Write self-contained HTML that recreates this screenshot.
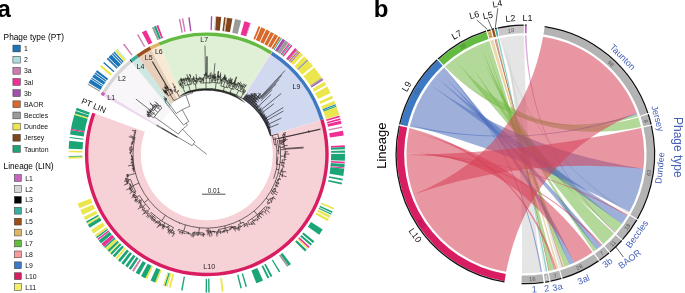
<!DOCTYPE html>
<html><head><meta charset="utf-8"><title>Figure</title>
<style>html,body{margin:0;padding:0;background:#fff;}body{width:685px;height:293px;overflow:hidden;font-family:"Liberation Sans",sans-serif;}svg{display:block;will-change:transform;transform:translateZ(0);}</style></head>
<body>
<svg width="685" height="293" viewBox="0 0 685 293" font-family="'Liberation Sans', sans-serif">
<path d="M102.95 95.83A119.2 119.2 0 0 1 104.73 92.78L158.85 125.42A56 56 0 0 0 158.01 126.86Z" fill="#ecd9ee"/>
<path d="M104.73 92.78A119.2 119.2 0 0 1 131.46 61.98L171.41 110.95A56 56 0 0 0 158.85 125.42Z" fill="#f8f6f8"/>
<path d="M131.46 61.98A119.2 119.2 0 0 1 132.11 61.45L169.2 107.59A60 60 0 0 0 168.88 107.85Z" fill="#dddddd"/>
<path d="M132.11 61.45A119.2 119.2 0 0 1 138.09 56.95L172.21 105.32A60 60 0 0 0 169.2 107.59Z" fill="#cde8e3"/>
<path d="M138.09 56.95A119.2 119.2 0 0 1 151.02 49.01L177.79 99.56A62 62 0 0 0 171.06 103.69Z" fill="#e6cfbb"/>
<path d="M151.02 49.01A119.2 119.2 0 0 1 159.65 44.87L181.88 96.49A63 63 0 0 0 177.32 98.67Z" fill="#f7e9d4"/>
<path d="M159.65 44.87A119.2 119.2 0 0 1 270.49 53.59L241.27 99.83A64.5 64.5 0 0 0 181.29 95.11Z" fill="#dff0d6"/>
<path d="M270.49 53.59A119.2 119.2 0 0 1 271.2 54.04L241.65 100.07A64.5 64.5 0 0 0 241.27 99.83Z" fill="#f8d8d8"/>
<path d="M271.2 54.04A119.2 119.2 0 0 1 320.97 120.1L269.54 135.53A65.5 65.5 0 0 0 242.19 99.23Z" fill="#d1d9f0"/>
<path d="M320.97 120.1A119.2 119.2 0 1 1 94.79 113.58L144.78 131.78A66 66 0 1 0 270.02 135.38Z" fill="#f6d1d6"/>
<path d="M100.6 94.51A121.9 121.9 0 0 1 102.42 91.38L105.33 93.14A118.5 118.5 0 0 0 103.56 96.18Z" fill="#c466bd"/>
<path d="M102.42 91.38A121.9 121.9 0 0 1 129.76 59.88L131.9 62.52A118.5 118.5 0 0 0 105.33 93.14Z" fill="#d6d6d6"/>
<path d="M129.76 59.88A121.9 121.9 0 0 1 130.42 59.35L132.55 62A118.5 118.5 0 0 0 131.9 62.52Z" fill="#000000"/>
<path d="M130.42 59.35A121.9 121.9 0 0 1 136.53 54.74L138.49 57.52A118.5 118.5 0 0 0 132.55 62Z" fill="#3bada1"/>
<path d="M136.53 54.74A121.9 121.9 0 0 1 149.76 46.62L151.35 49.62A118.5 118.5 0 0 0 138.49 57.52Z" fill="#9a4f1b"/>
<path d="M149.76 46.62A121.9 121.9 0 0 1 158.58 42.39L159.93 45.51A118.5 118.5 0 0 0 151.35 49.62Z" fill="#e0b468"/>
<path d="M158.58 42.39A121.9 121.9 0 0 1 271.94 51.31L270.12 54.19A118.5 118.5 0 0 0 159.93 45.51Z" fill="#63bb42"/>
<path d="M271.94 51.31A121.9 121.9 0 0 1 272.66 51.77L270.82 54.63A118.5 118.5 0 0 0 270.12 54.19Z" fill="#f69a9c"/>
<path d="M272.66 51.77A121.9 121.9 0 0 1 323.56 119.32L320.3 120.3A118.5 118.5 0 0 0 270.82 54.63Z" fill="#3d78c2"/>
<path d="M323.56 119.32A121.9 121.9 0 1 1 92.25 112.66L95.45 113.82A118.5 118.5 0 1 0 320.3 120.3Z" fill="#d81d62"/>
<path d="M87.48 84.62A138.2 138.2 0 0 1 88.09 83.59L100.03 90.7A124.3 124.3 0 0 0 99.48 91.64Z" fill="#9b9b9b"/>
<path d="M88.59 82.76A138.2 138.2 0 0 1 90.76 79.28L102.44 86.83A124.3 124.3 0 0 0 100.48 89.96Z" fill="#1b75b8"/>
<path d="M91.16 78.68A138.2 138.2 0 0 1 91.82 77.67L103.39 85.38A124.3 124.3 0 0 0 102.79 86.29Z" fill="#1b75b8"/>
<path d="M92.23 77.07A138.2 138.2 0 0 1 94.15 74.29L105.48 82.35A124.3 124.3 0 0 0 103.75 84.84Z" fill="#1b75b8"/>
<path d="M94.57 73.7A138.2 138.2 0 0 1 95.42 72.53L106.62 80.76A124.3 124.3 0 0 0 105.86 81.82Z" fill="#1b75b8"/>
<path d="M95.85 71.95A138.2 138.2 0 0 1 97.16 70.22L108.19 78.68A124.3 124.3 0 0 0 107.01 80.24Z" fill="#1b75b8"/>
<path d="M99.86 66.82A138.2 138.2 0 0 1 101.4 64.96L112 73.95A124.3 124.3 0 0 0 110.61 75.62Z" fill="#ece64e"/>
<path d="M103.13 62.96A138.2 138.2 0 0 1 104.1 61.88L114.43 71.18A124.3 124.3 0 0 0 113.56 72.15Z" fill="#1b75b8"/>
<path d="M106.72 59.04A138.2 138.2 0 0 1 107.89 57.83L117.84 67.54A124.3 124.3 0 0 0 116.79 68.63Z" fill="#1b75b8"/>
<path d="M108.4 57.31A138.2 138.2 0 0 1 111.32 54.44L120.92 64.49A124.3 124.3 0 0 0 118.3 67.07Z" fill="#1b75b8"/>
<path d="M111.84 53.94A138.2 138.2 0 0 1 112.9 52.95L122.35 63.15A124.3 124.3 0 0 0 121.4 64.04Z" fill="#1b75b8"/>
<path d="M113.43 52.46A138.2 138.2 0 0 1 114.51 51.49L123.79 61.83A124.3 124.3 0 0 0 122.82 62.71Z" fill="#1b75b8"/>
<path d="M115.05 51A138.2 138.2 0 0 1 116.68 49.58L125.74 60.11A124.3 124.3 0 0 0 124.27 61.4Z" fill="#ece64e"/>
<path d="M117.05 49.26A138.2 138.2 0 0 1 117.6 48.79L126.57 59.41A124.3 124.3 0 0 0 126.07 59.83Z" fill="#a9dde0"/>
<path d="M123.05 44.42A138.2 138.2 0 0 1 124.21 43.54L132.52 54.69A124.3 124.3 0 0 0 131.48 55.47Z" fill="#cf7ab0"/>
<path d="M137.07 35.03A138.2 138.2 0 0 1 138.33 34.31L145.21 46.38A124.3 124.3 0 0 0 144.09 47.03Z" fill="#cf7ab0"/>
<path d="M141.92 32.33A138.2 138.2 0 0 1 146.22 30.14L152.31 42.63A124.3 124.3 0 0 0 148.44 44.6Z" fill="#ef2f96"/>
<path d="M151.91 27.52A138.2 138.2 0 0 1 153.69 26.76L159.03 39.59A124.3 124.3 0 0 0 157.43 40.27Z" fill="#9b9b9b"/>
<path d="M153.91 26.67A138.2 138.2 0 0 1 155.93 25.85L161.04 38.78A124.3 124.3 0 0 0 159.23 39.51Z" fill="#1ba576"/>
<path d="M156.37 25.68A138.2 138.2 0 0 1 158.18 24.99L163.07 38A124.3 124.3 0 0 0 161.45 38.62Z" fill="#ef2f96"/>
<path d="M178.77 19.02A138.2 138.2 0 0 1 180.19 18.74L182.87 32.38A124.3 124.3 0 0 0 181.59 32.63Z" fill="#cf7ab0"/>
<path d="M181.85 18.42A138.2 138.2 0 0 1 183.28 18.17L185.64 31.86A124.3 124.3 0 0 0 184.36 32.09Z" fill="#cf7ab0"/>
<path d="M188.28 17.4A138.2 138.2 0 0 1 189.72 17.21L191.44 31A124.3 124.3 0 0 0 190.15 31.17Z" fill="#a44fae"/>
<path d="M210.9 16.21A138.2 138.2 0 0 1 212.35 16.26L211.79 30.15A124.3 124.3 0 0 0 210.49 30.1Z" fill="#a44fae"/>
<path d="M215 16.39A138.2 138.2 0 0 1 215.96 16.45L215.04 30.32A124.3 124.3 0 0 0 214.17 30.27Z" fill="#c9c9c9"/>
<path d="M216.2 16.47A138.2 138.2 0 0 1 221.25 16.91L219.79 30.73A124.3 124.3 0 0 0 215.25 30.34Z" fill="#80431c"/>
<path d="M224.12 17.24A138.2 138.2 0 0 1 225.79 17.46L223.88 31.23A124.3 124.3 0 0 0 222.38 31.03Z" fill="#80431c"/>
<path d="M226.03 17.49A138.2 138.2 0 0 1 227.23 17.67L225.17 31.42A124.3 124.3 0 0 0 224.1 31.26Z" fill="#c8b8ac"/>
<path d="M227.23 17.67A138.2 138.2 0 0 1 232.46 18.55L229.88 32.21A124.3 124.3 0 0 0 225.17 31.42Z" fill="#80431c"/>
<path d="M235.06 19.07A138.2 138.2 0 0 1 241.17 20.49L237.71 33.96A124.3 124.3 0 0 0 232.22 32.68Z" fill="#9b9b9b"/>
<path d="M244.43 21.37A138.2 138.2 0 0 1 250.19 23.14L245.83 36.34A124.3 124.3 0 0 0 240.64 34.75Z" fill="#ef2f96"/>
<path d="M250.19 23.14A138.2 138.2 0 0 1 250.88 23.37L246.45 36.54A124.3 124.3 0 0 0 245.83 36.34Z" fill="#cf7ab0"/>
<path d="M258.57 26.21A138.2 138.2 0 0 1 260.35 26.95L254.97 39.76A124.3 124.3 0 0 0 253.36 39.1Z" fill="#d8692a"/>
<path d="M261.24 27.33A138.2 138.2 0 0 1 265.42 29.2L259.53 41.79A124.3 124.3 0 0 0 255.77 40.1Z" fill="#d8692a"/>
<path d="M266.3 29.61A138.2 138.2 0 0 1 269.97 31.43L263.62 43.8A124.3 124.3 0 0 0 260.31 42.16Z" fill="#d8692a"/>
<path d="M270.83 31.88A138.2 138.2 0 0 1 274.01 33.59L267.25 45.74A124.3 124.3 0 0 0 264.39 44.19Z" fill="#d8692a"/>
<path d="M274.85 34.07A138.2 138.2 0 0 1 277.98 35.89L270.82 47.8A124.3 124.3 0 0 0 268.01 46.16Z" fill="#d8692a"/>
<path d="M278.8 36.39A138.2 138.2 0 0 1 280.65 37.53L273.22 49.28A124.3 124.3 0 0 0 271.56 48.25Z" fill="#d8692a"/>
<path d="M281.05 37.79A138.2 138.2 0 0 1 281.87 38.31L274.32 49.99A124.3 124.3 0 0 0 273.59 49.52Z" fill="#1ba576"/>
<path d="M282.67 38.84A138.2 138.2 0 0 1 285.28 40.59L277.38 52.03A124.3 124.3 0 0 0 275.04 50.46Z" fill="#a44fae"/>
<path d="M285.28 40.59A138.2 138.2 0 0 1 288.42 42.83L280.21 54.04A124.3 124.3 0 0 0 277.38 52.03Z" fill="#9b9b9b"/>
<path d="M288.81 43.11A138.2 138.2 0 0 1 289.78 43.83L281.43 54.95A124.3 124.3 0 0 0 280.56 54.3Z" fill="#ef2f96"/>
<path d="M289.97 43.98A138.2 138.2 0 0 1 290.74 44.56L282.3 55.6A124.3 124.3 0 0 0 281.61 55.08Z" fill="#1ba576"/>
<path d="M291.12 44.86A138.2 138.2 0 0 1 292.26 45.74L283.67 56.67A124.3 124.3 0 0 0 282.64 55.87Z" fill="#ef2f96"/>
<path d="M295.08 48.02A138.2 138.2 0 0 1 296.74 49.42L287.69 59.97A124.3 124.3 0 0 0 286.2 58.71Z" fill="#ef2f96"/>
<path d="M296.74 49.42A138.2 138.2 0 0 1 297.47 50.05L288.35 60.54A124.3 124.3 0 0 0 287.69 59.97Z" fill="#a44fae"/>
<path d="M297.47 50.05A138.2 138.2 0 0 1 298.19 50.68L289 61.11A124.3 124.3 0 0 0 288.35 60.54Z" fill="#cfc64c"/>
<path d="M298.19 50.68A138.2 138.2 0 0 1 298.91 51.33L289.65 61.69A124.3 124.3 0 0 0 289 61.11Z" fill="#a44fae"/>
<path d="M298.91 51.33A138.2 138.2 0 0 1 299.63 51.97L290.29 62.27A124.3 124.3 0 0 0 289.65 61.69Z" fill="#cfc64c"/>
<path d="M299.63 51.97A138.2 138.2 0 0 1 300.34 52.62L290.94 62.85A124.3 124.3 0 0 0 290.29 62.27Z" fill="#a44fae"/>
<path d="M300.34 52.62A138.2 138.2 0 0 1 302.98 55.1L293.3 65.09A124.3 124.3 0 0 0 290.94 62.85Z" fill="#ece64e"/>
<path d="M304.18 56.29A138.2 138.2 0 0 1 307.21 59.39L297.11 68.95A124.3 124.3 0 0 0 294.39 66.15Z" fill="#ece64e"/>
<path d="M307.21 59.39A138.2 138.2 0 0 1 308.37 60.63L298.15 70.05A124.3 124.3 0 0 0 297.11 68.95Z" fill="#9b9b9b"/>
<path d="M308.37 60.63A138.2 138.2 0 0 1 312.98 65.89L302.3 74.78A124.3 124.3 0 0 0 298.15 70.05Z" fill="#ece64e"/>
<path d="M314.2 67.38A138.2 138.2 0 0 1 321.78 77.67L310.21 85.38A124.3 124.3 0 0 0 303.4 76.13Z" fill="#ece64e"/>
<path d="M321.78 77.67A138.2 138.2 0 0 1 322.57 78.88L310.93 86.47A124.3 124.3 0 0 0 310.21 85.38Z" fill="#9b9b9b"/>
<path d="M322.57 78.88A138.2 138.2 0 0 1 323.36 80.1L311.63 87.56A124.3 124.3 0 0 0 310.93 86.47Z" fill="#a44fae"/>
<path d="M324.38 81.73A138.2 138.2 0 0 1 326.24 84.83L314.23 91.82A124.3 124.3 0 0 0 312.56 89.03Z" fill="#ece64e"/>
<path d="M327.2 86.51A138.2 138.2 0 0 1 330.59 92.9L318.14 99.08A124.3 124.3 0 0 0 315.09 93.33Z" fill="#ece64e"/>
<path d="M331.95 95.73A138.2 138.2 0 0 1 333.15 98.36L320.44 103.99A124.3 124.3 0 0 0 319.36 101.62Z" fill="#ece64e"/>
<path d="M334.2 100.8A138.2 138.2 0 0 1 335.47 103.92L322.53 109A124.3 124.3 0 0 0 321.39 106.18Z" fill="#ece64e"/>
<path d="M335.56 104.15A138.2 138.2 0 0 1 335.99 105.27L323 110.21A124.3 124.3 0 0 0 322.61 109.2Z" fill="#1b75b8"/>
<path d="M336.16 105.73A138.2 138.2 0 0 1 336.58 106.86L323.53 111.63A124.3 124.3 0 0 0 323.15 110.62Z" fill="#1ba576"/>
<path d="M336.67 107.08A138.2 138.2 0 0 1 339.31 115.1L325.98 119.05A124.3 124.3 0 0 0 323.6 111.84Z" fill="#ece64e"/>
<path d="M339.45 115.56A138.2 138.2 0 0 1 339.91 117.19L326.52 120.92A124.3 124.3 0 0 0 326.1 119.46Z" fill="#ef2f96"/>
<path d="M340.23 118.35A138.2 138.2 0 0 1 340.66 119.98L327.19 123.44A124.3 124.3 0 0 0 326.81 121.97Z" fill="#ef2f96"/>
<path d="M340.84 120.68A138.2 138.2 0 0 1 341.57 123.73L328.01 126.81A124.3 124.3 0 0 0 327.36 124.07Z" fill="#ef2f96"/>
<path d="M342.18 126.56A138.2 138.2 0 0 1 342.41 127.74L328.77 130.42A124.3 124.3 0 0 0 328.56 129.36Z" fill="#cf7ab0"/>
<path d="M342.98 130.83A138.2 138.2 0 0 1 343.72 135.59L329.95 137.48A124.3 124.3 0 0 0 329.29 133.19Z" fill="#ef2f96"/>
<path d="M344.7 145.19A138.2 138.2 0 0 1 344.8 146.88L330.92 147.63A124.3 124.3 0 0 0 330.83 146.11Z" fill="#ef2f96"/>
<path d="M344.81 147.12A138.2 138.2 0 0 1 344.91 149.29L331.02 149.8A124.3 124.3 0 0 0 330.93 147.84Z" fill="#1ba576"/>
<path d="M344.95 150.49A138.2 138.2 0 0 1 344.99 152.66L331.09 152.83A124.3 124.3 0 0 0 331.05 150.88Z" fill="#1ba576"/>
<path d="M345 153.87A138.2 138.2 0 0 1 344.85 160.86L330.96 160.21A124.3 124.3 0 0 0 331.1 153.92Z" fill="#1ba576"/>
<path d="M344.8 161.82A138.2 138.2 0 0 1 344.7 163.51L330.83 162.59A124.3 124.3 0 0 0 330.92 161.07Z" fill="#ef2f96"/>
<path d="M344.66 163.99A138.2 138.2 0 0 1 344.39 167.36L330.55 166.05A124.3 124.3 0 0 0 330.8 163.02Z" fill="#1ba576"/>
<path d="M344.36 167.6A138.2 138.2 0 0 1 344.27 168.56L330.44 167.13A124.3 124.3 0 0 0 330.53 166.26Z" fill="#ef2f96"/>
<path d="M344.24 168.8A138.2 138.2 0 0 1 343.3 175.97L329.57 173.79A124.3 124.3 0 0 0 330.42 167.34Z" fill="#1ba576"/>
<path d="M342.82 178.82A138.2 138.2 0 0 1 342.51 180.48L328.86 177.85A124.3 124.3 0 0 0 329.14 176.36Z" fill="#1ba576"/>
<path d="M342.03 182.85A138.2 138.2 0 0 1 341.67 184.5L328.11 181.47A124.3 124.3 0 0 0 328.43 179.98Z" fill="#1ba576"/>
<path d="M334.2 207.9A138.2 138.2 0 0 1 333.54 209.46L320.79 203.91A124.3 124.3 0 0 0 321.39 202.52Z" fill="#ece64e"/>
<path d="M332.66 211.44A138.2 138.2 0 0 1 331.95 212.97L319.36 207.08A124.3 124.3 0 0 0 320 205.7Z" fill="#1ba576"/>
<path d="M331.64 213.63A138.2 138.2 0 0 1 331.12 214.72L318.62 208.64A124.3 124.3 0 0 0 319.08 207.67Z" fill="#1ba576"/>
<path d="M330.59 215.8A138.2 138.2 0 0 1 329.5 217.95L317.16 211.55A124.3 124.3 0 0 0 318.14 209.62Z" fill="#ece64e"/>
<path d="M328.94 219.02A138.2 138.2 0 0 1 327.79 221.14L315.62 214.42A124.3 124.3 0 0 0 316.65 212.51Z" fill="#ece64e"/>
<path d="M322.7 229.62A138.2 138.2 0 0 1 319.17 234.8L307.87 226.71A124.3 124.3 0 0 0 311.05 222.05Z" fill="#1ba576"/>
<path d="M314.35 241.13A138.2 138.2 0 0 1 312.82 243L302.16 234.08A124.3 124.3 0 0 0 303.54 232.41Z" fill="#1ba576"/>
<path d="M312.04 243.92A138.2 138.2 0 0 1 310.62 245.56L300.18 236.39A124.3 124.3 0 0 0 301.46 234.91Z" fill="#1ba576"/>
<path d="M309.66 246.64A138.2 138.2 0 0 1 308.53 247.89L298.3 238.49A124.3 124.3 0 0 0 299.32 237.36Z" fill="#ef2f96"/>
<path d="M308.37 248.07A138.2 138.2 0 0 1 307.54 248.95L297.41 239.44A124.3 124.3 0 0 0 298.15 238.65Z" fill="#ece64e"/>
<path d="M306.71 249.83A138.2 138.2 0 0 1 305.03 251.56L295.15 241.78A124.3 124.3 0 0 0 296.66 240.23Z" fill="#1ba576"/>
<path d="M290.93 263.99A138.2 138.2 0 0 1 288.62 265.73L280.39 254.53A124.3 124.3 0 0 0 282.47 252.96Z" fill="#1ba576"/>
<path d="M288.62 265.73A138.2 138.2 0 0 1 287.05 266.86L278.98 255.54A124.3 124.3 0 0 0 280.39 254.53Z" fill="#9b9b9b"/>
<path d="M280.24 271.42A138.2 138.2 0 0 1 279.01 272.18L271.75 260.33A124.3 124.3 0 0 0 272.85 259.65Z" fill="#1ba576"/>
<path d="M272.32 276.03A138.2 138.2 0 0 1 270.61 276.93L264.2 264.61A124.3 124.3 0 0 0 265.73 263.79Z" fill="#1ba576"/>
<path d="M269.33 277.6A138.2 138.2 0 0 1 267.6 278.46L261.48 265.97A124.3 124.3 0 0 0 263.04 265.2Z" fill="#1ba576"/>
<path d="M263.01 280.6A138.2 138.2 0 0 1 256.33 283.37L251.35 270.39A124.3 124.3 0 0 0 257.36 267.9Z" fill="#1ba576"/>
<path d="M246.98 286.58A138.2 138.2 0 0 1 245.59 287L241.69 273.65A124.3 124.3 0 0 0 242.93 273.28Z" fill="#1ba576"/>
<path d="M241.87 288.03A138.2 138.2 0 0 1 240.47 288.39L237.08 274.91A124.3 124.3 0 0 0 238.34 274.58Z" fill="#1ba576"/>
<path d="M223.64 291.52A138.2 138.2 0 0 1 221.73 291.74L220.22 277.92A124.3 124.3 0 0 0 221.95 277.72Z" fill="#ece64e"/>
<path d="M209.69 292.52A138.2 138.2 0 0 1 208.25 292.54L208.1 278.64A124.3 124.3 0 0 0 209.4 278.62Z" fill="#1ba576"/>
<path d="M207.04 292.55A138.2 138.2 0 0 1 205.59 292.54L205.72 278.65A124.3 124.3 0 0 0 207.02 278.65Z" fill="#1ba576"/>
<path d="M182.56 290.41A138.2 138.2 0 0 1 181.14 290.15L183.72 276.49A124.3 124.3 0 0 0 185 276.72Z" fill="#1ba576"/>
<path d="M170.57 287.72A138.2 138.2 0 0 1 168.71 287.2L172.54 273.83A124.3 124.3 0 0 0 174.21 274.3Z" fill="#ece64e"/>
<path d="M167.55 286.86A138.2 138.2 0 0 1 165.93 286.37L170.04 273.09A124.3 124.3 0 0 0 171.5 273.53Z" fill="#ece64e"/>
<path d="M165.7 286.3A138.2 138.2 0 0 1 164.32 285.86L168.6 272.63A124.3 124.3 0 0 0 169.84 273.03Z" fill="#1ba576"/>
<path d="M164.09 285.79A138.2 138.2 0 0 1 162.95 285.41L167.36 272.23A124.3 124.3 0 0 0 168.39 272.57Z" fill="#ece64e"/>
<path d="M156.6 283.11A138.2 138.2 0 0 1 155.03 282.49L160.24 269.6A124.3 124.3 0 0 0 161.65 270.16Z" fill="#ece64e"/>
<path d="M155.03 282.49A138.2 138.2 0 0 1 150.59 280.6L156.24 267.9A124.3 124.3 0 0 0 160.24 269.6Z" fill="#1ba576"/>
<path d="M147.09 278.98A138.2 138.2 0 0 1 145.35 278.14L151.53 265.69A124.3 124.3 0 0 0 153.09 266.45Z" fill="#ece64e"/>
<path d="M145.35 278.14A138.2 138.2 0 0 1 141.07 275.92L147.68 263.69A124.3 124.3 0 0 0 151.53 265.69Z" fill="#1ba576"/>
<path d="M139.17 274.87A138.2 138.2 0 0 1 135.62 272.81L142.78 260.9A124.3 124.3 0 0 0 145.97 262.75Z" fill="#1ba576"/>
<path d="M133.77 271.68A138.2 138.2 0 0 1 132.14 270.65L139.65 258.95A124.3 124.3 0 0 0 141.12 259.88Z" fill="#cf7ab0"/>
<path d="M130.93 269.86A138.2 138.2 0 0 1 128.72 268.38L136.57 256.91A124.3 124.3 0 0 0 138.56 258.24Z" fill="#1ba576"/>
<path d="M127.53 267.56A138.2 138.2 0 0 1 125.18 265.87L133.39 254.66A124.3 124.3 0 0 0 135.5 256.17Z" fill="#1ba576"/>
<path d="M123.63 264.72A138.2 138.2 0 0 1 121.34 262.96L129.93 252.03A124.3 124.3 0 0 0 131.99 253.62Z" fill="#1ba576"/>
<path d="M120.2 262.05A138.2 138.2 0 0 1 117.97 260.22L126.9 249.57A124.3 124.3 0 0 0 128.91 251.22Z" fill="#1ba576"/>
<path d="M117.05 259.44A138.2 138.2 0 0 1 115.41 258.02L124.6 247.59A124.3 124.3 0 0 0 126.07 248.87Z" fill="#ece64e"/>
<path d="M114.69 257.37A138.2 138.2 0 0 1 112.72 255.59L122.19 245.41A124.3 124.3 0 0 0 123.95 247.01Z" fill="#1ba576"/>
<path d="M111.84 254.76A138.2 138.2 0 0 1 110.28 253.26L119.99 243.31A124.3 124.3 0 0 0 121.4 244.66Z" fill="#1ba576"/>
<path d="M110.11 253.09A138.2 138.2 0 0 1 109.25 252.24L119.06 242.4A124.3 124.3 0 0 0 119.83 243.16Z" fill="#ece64e"/>
<path d="M109.08 252.07A138.2 138.2 0 0 1 107.39 250.35L117.39 240.7A124.3 124.3 0 0 0 118.91 242.24Z" fill="#1ba576"/>
<path d="M107.22 250.18A138.2 138.2 0 0 1 105.4 248.25L115.6 238.8A124.3 124.3 0 0 0 117.24 240.54Z" fill="#ece64e"/>
<path d="M105.23 248.07A138.2 138.2 0 0 1 104.1 246.82L114.43 237.52A124.3 124.3 0 0 0 115.45 238.65Z" fill="#1ba576"/>
<path d="M103.94 246.64A138.2 138.2 0 0 1 101.4 243.74L112 234.75A124.3 124.3 0 0 0 114.28 237.36Z" fill="#ef2f96"/>
<path d="M101.09 243.37A138.2 138.2 0 0 1 98.64 240.38L109.52 231.73A124.3 124.3 0 0 0 111.72 234.41Z" fill="#1ba576"/>
<path d="M98.34 240A138.2 138.2 0 0 1 97.45 238.86L108.45 230.36A124.3 124.3 0 0 0 109.25 231.39Z" fill="#ef2f96"/>
<path d="M97.01 238.29A138.2 138.2 0 0 1 95.99 236.94L107.14 228.63A124.3 124.3 0 0 0 108.05 229.85Z" fill="#1ba576"/>
<path d="M95.85 236.75A138.2 138.2 0 0 1 94.71 235.19L105.98 227.06A124.3 124.3 0 0 0 107.01 228.46Z" fill="#ece64e"/>
<path d="M93.59 233.62A138.2 138.2 0 0 1 91.16 230.02L102.79 222.41A124.3 124.3 0 0 0 104.98 225.65Z" fill="#ece64e"/>
<path d="M89.73 227.79A138.2 138.2 0 0 1 87.85 224.7L99.81 217.62A124.3 124.3 0 0 0 101.5 220.4Z" fill="#1ba576"/>
<path d="M87.72 224.49A138.2 138.2 0 0 1 86.99 223.24L99.04 216.31A124.3 124.3 0 0 0 99.7 217.44Z" fill="#ece64e"/>
<path d="M86.87 223.03A138.2 138.2 0 0 1 86.04 221.56L98.19 214.8A124.3 124.3 0 0 0 98.94 216.12Z" fill="#1ba576"/>
<path d="M85.23 220.08A138.2 138.2 0 0 1 83.66 217.09L96.05 210.78A124.3 124.3 0 0 0 97.46 213.47Z" fill="#ece64e"/>
<path d="M82.59 214.93A138.2 138.2 0 0 1 80.35 210.12L93.07 204.51A124.3 124.3 0 0 0 95.08 208.84Z" fill="#ece64e"/>
<path d="M79.59 208.35A138.2 138.2 0 0 1 77.61 203.43L90.6 198.49A124.3 124.3 0 0 0 92.38 202.92Z" fill="#ece64e"/>
<path d="M68.67 158.69A138.2 138.2 0 0 1 68.62 156.76L82.52 156.52A124.3 124.3 0 0 0 82.56 158.25Z" fill="#ece64e"/>
<path d="M68.62 156.76A138.2 138.2 0 0 1 68.61 156.04L82.51 155.87A124.3 124.3 0 0 0 82.52 156.52Z" fill="#1ba576"/>
<path d="M68.62 152.18A138.2 138.2 0 0 1 68.65 150.73L82.54 151.1A124.3 124.3 0 0 0 82.52 152.4Z" fill="#ece64e"/>
<path d="M68.71 148.8A138.2 138.2 0 0 1 69.26 140.86L83.09 142.22A124.3 124.3 0 0 0 82.6 149.36Z" fill="#1ba576"/>
<path d="M69.57 137.99A138.2 138.2 0 0 1 69.69 137.03L83.48 138.77A124.3 124.3 0 0 0 83.37 139.63Z" fill="#1ba576"/>
<path d="M70.05 134.4A138.2 138.2 0 0 1 70.74 130.11L84.43 132.55A124.3 124.3 0 0 0 83.8 136.41Z" fill="#1ba576"/>
<path d="M70.74 130.11A138.2 138.2 0 0 1 71 128.69L84.66 131.27A124.3 124.3 0 0 0 84.43 132.55Z" fill="#ef2f96"/>
<path d="M71 128.69A138.2 138.2 0 0 1 74.36 114.87L87.68 118.84A124.3 124.3 0 0 0 84.66 131.27Z" fill="#1ba576"/>
<path d="M74.36 114.87A138.2 138.2 0 0 1 74.78 113.48L88.06 117.59A124.3 124.3 0 0 0 87.68 118.84Z" fill="#ece64e"/>
<path d="M74.78 113.48A138.2 138.2 0 0 1 75.59 110.96L88.79 115.32A124.3 124.3 0 0 0 88.06 117.59Z" fill="#1ba576"/>
<path d="M75.82 110.27A138.2 138.2 0 0 1 76.69 107.76L89.78 112.45A124.3 124.3 0 0 0 88.99 114.7Z" fill="#1ba576"/>
<path d="M283.59 133.13L286.01 132.46M283.77 133.81L284.04 133.74M283.95 134.5L286 133.97M284.13 135.18L284.94 134.98M284.29 135.87L285.5 135.58M283.59 133.13A79.67 79.67 0 0 1 284.29 135.87M282.59 134.85L283.95 134.5M283.76 136.72L284.21 136.61M283.91 137.4L320.49 129.36M284.06 138.08L284.18 138.06M283.76 136.72A78.95 78.95 0 0 1 284.06 138.08M283.24 137.55L283.91 137.4M285.18 138.57L285.82 138.44M285.32 139.27L286.09 139.12M285.18 138.57A79.95 79.95 0 0 1 285.32 139.27M283.59 139.25L285.25 138.92M285.5 139.95L287.78 139.54M285.63 140.65L285.71 140.64M285.5 139.95A80.01 80.01 0 0 1 285.63 140.65M283.85 140.61L285.57 140.3M282.59 134.85A78.26 78.26 0 0 1 283.85 140.61M278.91 138.66L283.27 137.72M283.03 141.8L284.96 141.48M283.14 142.47L283.65 142.4M283.24 143.15L284.39 142.98M283.03 141.8A77.26 77.26 0 0 1 283.24 143.15M281.46 142.74L283.14 142.47M283.18 143.85L284.5 143.67M283.27 144.53L284.16 144.41M283.18 143.85A77.1 77.1 0 0 1 283.27 144.53M281.7 144.39L283.23 144.19M281.46 142.74A75.56 75.56 0 0 1 281.7 144.39M279.84 143.82L281.59 143.56M284.19 145.11L285.23 144.98M284.27 145.79L287.74 145.41M284.34 146.48L284.46 146.47M284.41 147.17L284.79 147.13M284.19 145.11A77.94 77.94 0 0 1 284.41 147.17M283 146.28L284.31 146.14M284.68 147.84L284.72 147.84M284.74 148.53L303.53 147.13M284.68 147.84A78.16 78.16 0 0 1 284.74 148.53M283.19 148.31L284.71 148.19M283 146.28A76.63 76.63 0 0 1 283.19 148.31M280.29 147.55L283.1 147.29M285.21 149.19L303.59 147.99M285.25 149.89L285.7 149.86M285.21 149.19A78.58 78.58 0 0 1 285.25 149.89M284.52 149.59L285.23 149.54M280.46 149.83L284.52 149.59M284.99 150.8L285.3 150.78M285.04 151.88L288.17 151.78M285.06 152.97L285.89 152.95M285.07 154.06L289.62 154.04M285.07 155.14L285.73 155.15M285.05 156.23L285.15 156.23M285.02 157.31L286.31 157.36M284.99 150.8A78.27 78.27 0 0 1 285.02 157.31M284.47 154.06L285.07 154.06M284.37 158.37L284.78 158.39M284.47 154.06A77.67 77.67 0 0 1 284.37 158.37M280.58 156.12L284.45 156.21M284.51 159.46L286.35 159.58M284.43 160.54L284.59 160.55M284.51 159.46A77.88 77.88 0 0 1 284.43 160.54M282.33 159.84L284.47 160M283.93 161.58L283.94 161.58M283.82 162.65L284.63 162.73M283.7 163.71L284.56 163.82M283.93 161.58A77.46 77.46 0 0 1 283.7 163.71M282.1 162.46L283.82 162.65M283.33 164.75L284.09 164.85M283.17 165.81L283.45 165.85M283.01 166.87L284.7 167.15M283.33 164.75A77.23 77.23 0 0 1 283.01 166.87M281.7 165.59L283.17 165.81M282.33 159.84A75.73 75.73 0 0 1 281.7 165.59M280.15 162.51L282.07 162.72M282.45 167.86L283.15 167.98M282.25 168.91L282.56 168.97M282.04 169.95L282.44 170.04M281.82 171L286.26 171.98M281.58 172.04L283.64 172.52M282.45 167.86A76.84 76.84 0 0 1 281.58 172.04M281.27 169.79L282.04 169.95M282.7 173.42L282.72 173.42M282.42 174.47L282.68 174.54M282.14 175.52L286.52 176.75M281.84 176.56L282.98 176.9M282.7 173.42A78.25 78.25 0 0 1 281.84 176.56M280.16 174.41L282.28 174.99M279.42 176.95L279.55 176.99M281.27 169.79A76.06 76.06 0 0 1 279.42 176.95M278.25 172.83L280.44 173.39M279.1 177.95L280.26 178.33M278.77 178.95L280.95 179.7M278.42 179.95L279.01 180.16M278.05 180.94L278.15 180.98M279.1 177.95A76.06 76.06 0 0 1 278.05 180.94M278.01 179.25L278.59 179.45M278.53 182.26L278.87 182.39M278.14 183.26L279.25 183.7M277.73 184.24L278.29 184.48M278.53 182.26A76.97 76.97 0 0 1 277.73 184.24M276.72 182.68L278.14 183.26M276.64 184.93L277.69 185.39M276.21 185.9L278.32 186.86M275.77 186.86L275.94 186.94M276.64 184.93A76.24 76.24 0 0 1 275.77 186.86M275.48 185.57L276.21 185.9M278.01 179.25A75.44 75.44 0 0 1 275.48 185.57M275.29 181.83L276.82 182.44M275.49 187.9L275.79 188.05M275.02 188.85L276.11 189.41M274.53 189.8L276.02 190.58M275.49 187.9A76.45 76.45 0 0 1 274.53 189.8M274.04 188.36L275.02 188.85M274.64 191.06L277.86 192.8M274.12 192L274.37 192.14M273.59 192.93L276.97 194.88M274.64 191.06A77.13 77.13 0 0 1 273.59 192.93M272.56 191.13L274.12 192M272.86 193.74L273.47 194.11M272.31 194.65L272.43 194.73M272.86 193.74A76.91 76.91 0 0 1 272.31 194.65M271.25 193.39L272.59 194.2M274.04 188.36A75.35 75.35 0 0 1 271.25 193.39M271.34 190.15L272.69 190.9M273.62 196.67L274.22 197.05M273.09 197.49L275.65 199.16M272.56 198.3L273.29 198.79M272.01 199.1L272.8 199.64M273.62 196.67A79.09 79.09 0 0 1 272.01 199.1M272.18 197.47L272.83 197.89M272.04 200.3L272.18 200.4M271.47 201.1L272.15 201.59M270.89 201.89L272 202.71M272.04 200.3A79.79 79.79 0 0 1 270.89 201.89M270.27 200.24L271.47 201.1M272.18 197.47A78.32 78.32 0 0 1 270.27 200.24M270.23 198.16L271.24 198.86M270.14 202.55L270.22 202.61M269.55 203.32L270.09 203.75M270.14 202.55A79.6 79.6 0 0 1 269.55 203.32M268.9 202.2L269.85 202.94M268.3 203.57L268.49 203.73M267.69 204.32L268.15 204.7M268.3 203.57A78.77 78.77 0 0 1 267.69 204.32M267.71 203.71L268 203.95M268.9 202.2A78.4 78.4 0 0 1 267.71 203.71M267.28 202.15L268.31 202.96M270.23 198.16A77.09 77.09 0 0 1 267.28 202.15M266.14 198.22L268.79 200.18M269.26 206.91L270.33 207.8M268.62 207.67L269.77 208.67M267.96 208.42L268.81 209.18M269.26 206.91A81.63 81.63 0 0 1 267.96 208.42M267.5 206.71L268.62 207.67M266.2 208.18L267.05 208.96M267.5 206.71A80.16 80.16 0 0 1 266.2 208.18M265.76 206.48L266.85 207.45M266.52 209.82L269.65 212.73M265.83 210.54L265.85 210.56M265.14 211.26L266.08 212.18M266.52 209.82A81.5 81.5 0 0 1 265.14 211.26M265.01 209.76L265.83 210.54M263.81 208.62L265.01 209.76M263.59 211.13L266.81 214.35M262.89 211.82L262.96 211.9M262.18 212.51L262.89 213.25M263.59 211.13A80.31 80.31 0 0 1 262.18 212.51M262.42 211.33L262.89 211.82M261.24 212.94L263.68 215.56M260.52 213.6L261.69 214.89M259.79 214.26L259.91 214.39M259.05 214.9L261.86 218.16M261.24 212.94A79.98 79.98 0 0 1 259.05 214.9M259.92 213.67L260.16 213.93M258.54 215.82L259.51 216.97M257.79 216.45L259.69 218.77M257.02 217.07L258.69 219.15M258.54 215.82A80.35 80.35 0 0 1 257.02 217.07M257.33 215.89L257.79 216.45M262.42 211.33A79.63 79.63 0 0 1 257.33 215.89M259.31 212.98L259.92 213.67M257.6 219.41L258.28 220.28M256.8 220.03L257.57 221.04M257.6 219.41A82.54 82.54 0 0 1 256.8 220.03M256.38 218.66L257.2 219.72M255.64 220.17L255.65 220.18M254.83 220.76L254.89 220.84M254.01 221.35L254.08 221.45M255.64 220.17A81.96 81.96 0 0 1 254.01 221.35M254.39 220.15L254.83 220.76M253.6 222.53L255.16 224.8M252.77 223.1L253.71 224.5M253.6 222.53A82.7 82.7 0 0 1 252.77 223.1M252.35 221.58L253.19 222.81M251.88 223.59L252.72 224.89M251.03 224.14L251.45 224.81M251.88 223.59A82.63 82.63 0 0 1 251.03 224.14M250.69 222.67L251.46 223.87M256.38 218.66A81.21 81.21 0 0 1 250.69 222.67M252.14 218.69L253.58 220.73M249.81 224.09L250.3 224.89M248.95 224.61L249.2 225.03M249.81 224.09A81.94 81.94 0 0 1 248.95 224.61M248.9 223.57L249.38 224.35M247.7 221.59L248.9 223.57M265.76 206.48A78.71 78.71 0 0 1 247.7 221.59M254.15 210.96L257.3 214.72M247.31 223.8L247.94 224.87M246.46 224.29L248.08 227.16M247.31 223.8A80.4 80.4 0 0 1 246.46 224.29M246.44 223.27L246.89 224.05M245.83 225.19L246.12 225.72M244.96 225.67L245.05 225.84M244.08 226.13L244.65 227.22M245.83 225.19A80.88 80.88 0 0 1 244.08 226.13M244.31 224.45L244.96 225.67M242.58 225.35L242.69 225.57M246.44 223.27A79.51 79.51 0 0 1 242.58 225.35M243.33 222.12L244.52 224.34M241.86 226.11L242.02 226.43M240.98 226.54L241.27 227.14M240.09 226.95L240.25 227.29M241.86 226.11A79.87 79.87 0 0 1 240.09 226.95M240.6 225.72L240.98 226.54M239.17 227.28L240.03 229.23M238.27 227.67L239.53 230.6M237.37 228.05L238.43 230.6M239.17 227.28A79.79 79.79 0 0 1 237.37 228.05M237.95 226.92L238.27 227.67M240.6 225.72A78.97 78.97 0 0 1 237.95 226.92M238.46 224.52L239.28 226.33M243.33 222.12A76.98 76.98 0 0 1 238.46 224.52M239.5 220.51L240.92 223.36M235.85 226.89L236.73 229.08M234.96 227.24L235.85 229.53M235.85 226.89A78.14 78.14 0 0 1 234.96 227.24M235.08 226.23L235.41 227.07M233.89 227.09L235.47 231.36M232.99 227.42L233.75 229.53M232.09 227.74L232.15 227.88M231.19 228.04L231.45 228.83M233.89 227.09A77.62 77.62 0 0 1 231.19 228.04M232.42 227.22L232.54 227.58M230.57 229.21L230.76 229.81M229.65 229.5L229.92 230.41M230.57 229.21A78.54 78.54 0 0 1 229.65 229.5M229.72 228.12L230.11 229.36M235.08 226.23A77.25 77.25 0 0 1 229.72 228.12M232.03 226.11L232.42 227.22M228.85 230.21L228.88 230.31M227.92 230.48L227.93 230.52M226.99 230.73L227.67 233.32M226.05 230.97L226.06 231.02M228.85 230.21A79 79 0 0 1 226.05 230.97M227.23 229.79L227.45 230.6M225.06 231L225.19 231.55M224.12 231.22L224.42 232.55M223.17 231.42L223.4 232.48M222.23 231.62L222.49 232.93M225.06 231A78.8 78.8 0 0 1 222.23 231.62M223.51 230.7L223.65 231.32M227.23 229.79A78.16 78.16 0 0 1 223.51 230.7M224.88 228.24L225.38 230.27M221.3 231.92L221.38 232.31M220.35 232.09L220.69 234.02M221.3 231.92A78.91 78.91 0 0 1 220.35 232.09M220.61 230.8L220.83 232M219.44 232.5L219.46 232.66M218.48 232.65L218.5 232.8M219.44 232.5A79.17 79.17 0 0 1 218.48 232.65M218.73 231.12L218.96 232.58M217.46 232.4L217.75 234.52M216.51 232.52L217.02 236.63M217.46 232.4A78.77 78.77 0 0 1 216.51 232.52M216.84 231.39L216.98 232.46M220.61 230.8A77.69 77.69 0 0 1 216.84 231.39M218.48 229.52L218.73 231.12M232.03 226.11A76.07 76.07 0 0 1 218.48 229.52M224.78 225.93L225.33 228.13M215.41 231.44L215.5 232.26M214.47 231.54L214.63 233.16M213.52 231.63L213.54 231.88M212.57 231.7L212.6 232.11M215.41 231.44A77.57 77.57 0 0 1 212.57 231.7M213.96 231.27L213.99 231.58M211.66 232.4L211.9 236.21M210.71 232.45L210.75 233.36M209.75 232.5L209.92 237.04M211.66 232.4A78.2 78.2 0 0 1 209.75 232.5M210.66 231.51L210.71 232.45M208.79 232.35L208.84 234.39M207.83 232.37L207.87 235.45M208.79 232.35A78.03 78.03 0 0 1 207.83 232.37M208.29 231.59L208.31 232.36M206.87 231.6L206.87 232.29M213.96 231.27A77.25 77.25 0 0 1 206.87 231.6M210.36 230.26L210.42 231.52M205.94 230.34L205.94 230.52M210.36 230.26A75.99 75.99 0 0 1 205.94 230.34M208.11 228.14L208.15 230.33M204.8 234.15L204.77 235.24M203.58 234.11L203.47 236.85M202.36 234.05L202.25 236.12M204.8 234.15A79.82 79.82 0 0 1 202.36 234.05M203.62 232.98L203.58 234.11M201.14 234.09L201.04 235.46M199.92 234L199.89 234.29M198.7 233.88L198.54 235.54M197.49 233.75L197.23 235.95M196.28 233.6L196.1 234.92M201.14 234.09A79.94 79.94 0 0 1 196.28 233.6M198.83 232.64L198.7 233.88M195.12 233.08L194.68 236.04M193.92 232.89L193.18 237.38M192.72 232.69L191.92 237.17M195.12 233.08A79.59 79.59 0 0 1 192.72 232.69M194.07 232.01L193.92 232.89M203.62 232.98A78.69 78.69 0 0 1 194.07 232.01M199.33 227.77L198.83 232.64M191.22 234.06L190.9 235.68M190 233.81L190 233.83M188.79 233.55L188.59 234.44M187.58 233.26L187.57 233.31M186.38 232.96L186.24 233.49M191.22 234.06A81.22 81.22 0 0 1 186.38 232.96M189 232.61L188.79 233.55M184.99 233.32L184.76 234.16M183.79 232.98L183.78 233.02M182.59 232.62L181.95 234.68M181.4 232.24L181.37 232.32M180.21 231.84L179.53 233.82M179.03 231.43L178.95 231.66M184.99 233.32A81.93 81.93 0 0 1 179.03 231.43M182.5 230.84L181.99 232.43M178.45 229.43L177.92 230.84M189 232.61A80.25 80.25 0 0 1 178.45 229.43M185.53 225.02L183.67 231.2M179.68 222.99L179.37 223.75M174.5 233.53L174.17 234.35M173.97 233.31L172.48 236.89M173.44 233.09L173.39 233.2M172.91 232.86L172.78 233.16M172.38 232.63L171.99 233.52M174.5 233.53A85.51 85.51 0 0 1 172.38 232.63M174.18 231.33L173.44 233.09M171.93 232.23L171.49 233.21M171.4 231.99L171.31 232.21M170.88 231.75L170.49 232.61M170.36 231.51L169.04 234.31M171.93 232.23A85.33 85.33 0 0 1 170.36 231.51M171.87 230.3L171.14 231.87M170.2 230.51L169.93 231.08M169.69 230.27L168.63 232.45M169.18 230.01L167.85 232.7M170.2 230.51A84.5 84.5 0 0 1 169.18 230.01M170.09 229.46L169.69 230.27M174.18 231.33A83.6 83.6 0 0 1 170.09 229.46M173.41 227.6L172.12 230.42M168.8 229.5L168.37 230.36M168.3 229.25L167.79 230.23M167.79 228.98L167.66 229.24M168.8 229.5A84.21 84.21 0 0 1 167.79 228.98M169.19 227.51L168.3 229.25M167.93 227.51L167.93 227.52M167.44 227.25L167.15 227.79M166.95 226.98L166.47 227.86M166.46 226.71L166.44 226.76M167.93 227.51A82.85 82.85 0 0 1 166.46 226.71M167.48 226.6L167.2 227.12M169.19 227.51A82.26 82.26 0 0 1 167.48 226.6M169.15 225.51L168.33 227.06M165.68 226.97L165.61 227.08M165.19 226.69L165.07 226.9M164.7 226.41L162.95 229.41M164.22 226.13L163.81 226.81M163.74 225.84L162.04 228.66M163.26 225.55L162.16 227.33M165.68 226.97A83.46 83.46 0 0 1 163.26 225.55M164.76 225.76L164.46 226.27M162.65 225.45L162.21 226.16M162.18 225.15L162.08 225.3M161.7 224.85L161.3 225.47M161.23 224.55L160.03 226.39M162.65 225.45A83.69 83.69 0 0 1 161.23 224.55M162.38 224.3L161.94 225M164.76 225.76A82.86 82.86 0 0 1 162.38 224.3M164.8 223.03L163.57 225.04M160.85 224.09L160.16 225.14M160.38 223.78L158.51 226.59M160.85 224.09A83.52 83.52 0 0 1 160.38 223.78M161.01 223.35L160.62 223.94M159.46 224.15L156.9 227.91M158.99 223.82L158.96 223.86M158.52 223.5L158.39 223.68M159.46 224.15A84.34 84.34 0 0 1 158.52 223.5M159.85 222.57L158.99 223.82M158.07 223.16L157.78 223.57M157.61 222.83L157.28 223.29M158.07 223.16A84.31 84.31 0 0 1 157.61 222.83M158.71 221.77L157.84 222.99M157.33 222.25L156.8 222.98M156.87 221.91L156.2 222.83M156.42 221.58L154.93 223.56M155.96 221.24L155.2 222.25M157.33 222.25A84.01 84.01 0 0 1 155.96 221.24M157.36 220.79L156.64 221.75M161.01 223.35A82.81 82.81 0 0 1 157.36 220.79M160.49 220.2L159.16 222.09M155.64 220.73L155.63 220.75M155.2 220.38L154.4 221.41M154.75 220.03L153.35 221.81M154.31 219.68L153.53 220.65M153.88 219.32L153.24 220.1M153.44 218.97L151.79 220.97M155.64 220.73A83.8 83.8 0 0 1 153.44 218.97M155.66 218.44L154.53 219.86M153.25 218.31L152.62 219.06M152.82 217.95L151.22 219.84M152.4 217.58L151.59 218.52M151.97 217.22L150.31 219.12M151.55 216.85L151.32 217.1M151.13 216.47L149.96 217.78M153.25 218.31A83.42 83.42 0 0 1 151.13 216.47M153.11 216.33L152.18 217.4M150.43 216.41L150.1 216.78M150.01 216.03L149.68 216.39M149.6 215.65L147.33 218.08M150.43 216.41A83.84 83.84 0 0 1 149.6 215.65M151.26 214.67L150.01 216.03M155.66 218.44A82 82 0 0 1 151.26 214.67M154.4 215.46L153.43 216.6M148.21 216.3L148.08 216.43M147.79 215.9L147.54 216.16M147.38 215.5L146.2 216.71M148.21 216.3A85.27 85.27 0 0 1 147.38 215.5M149.05 214.59L147.79 215.9M151.09 212.46L149.05 214.59M173.41 227.6A80.5 80.5 0 0 1 151.09 212.46M165.37 215.42L161.61 220.97M148.34 213.71L147.23 214.84M147.94 213.31L147.73 213.52M147.54 212.92L146.63 213.82M147.15 212.52L145.66 213.97M146.76 212.11L146.67 212.2M148.34 213.71A83.31 83.31 0 0 1 146.76 212.11M148.45 212.02L147.54 212.92M146.21 211.86L143.93 214.03M145.83 211.45L142.55 214.52M145.44 211.04L145.33 211.15M145.06 210.62L144.39 211.24M144.69 210.21L143.31 211.44M146.21 211.86A83.54 83.54 0 0 1 144.69 210.21M146.54 210.03L145.44 211.04M148.45 212.02A82.04 82.04 0 0 1 146.54 210.03M149.71 208.9L147.48 211.03M143.86 210.19L143.22 210.76M143.48 209.77L143.46 209.79M143.11 209.34L141.7 210.56M143.86 210.19A84.14 84.14 0 0 1 143.11 209.34M144.75 208.66L143.48 209.77M143.09 208.61L142.26 209.32M142.73 208.18L142.57 208.31M142.37 207.75L142.16 207.92M142.01 207.31L141.78 207.5M141.65 206.88L139.8 208.37M141.3 206.44L137.74 209.27M143.09 208.61A83.68 83.68 0 0 1 141.3 206.44M143.13 206.75L142.19 207.53M140.87 206.06L140.72 206.17M140.52 205.61L139.35 206.52M140.87 206.06A83.79 83.79 0 0 1 140.52 205.61M141.74 205.02L140.7 205.84M141.24 204.36L139.74 205.5M144.75 208.66A82.46 82.46 0 0 1 141.24 204.36M145.66 204.33L142.96 206.54M141.14 203.74L140.55 204.18M140.81 203.3L139.85 204.01M140.48 202.85L140.46 202.86M140.15 202.4L138.88 203.32M139.83 201.96L137.86 203.36M141.14 203.74A82.17 82.17 0 0 1 139.83 201.96M141.47 202.13L140.48 202.85M139.65 201.4L139.18 201.74M139.34 200.95L138.84 201.29M139.02 200.5L136.29 202.36M139.65 201.4A81.99 81.99 0 0 1 139.02 200.5M140.2 200.35L139.34 200.95M139.59 199.45L139.4 199.58M141.47 202.13A80.94 80.94 0 0 1 139.59 199.45M142.13 199.67L140.51 200.8M136.93 200.56L135.17 201.72M136.62 200.09L135.29 200.96M136.31 199.62L134.15 201M136.01 199.14L134.92 199.83M136.93 200.56A83.77 83.77 0 0 1 136.01 199.14M138 198.86L136.46 199.85M136.15 198.39L135.91 198.54M135.85 197.91L134.88 198.51M135.56 197.43L135.1 197.72M135.27 196.95L133.67 197.91M134.99 196.47L134.62 196.69M136.15 198.39A83.26 83.26 0 0 1 134.99 196.47M136.68 196.76L135.56 197.43M135.84 195.33L131.46 197.86M138 198.86A81.94 81.94 0 0 1 135.84 195.33M139.44 195.55L136.9 197.11M149.71 208.9A78.96 78.96 0 0 1 139.44 195.55M148.31 199.36L144.22 202.5M134.31 195.56L132.97 196.33M134.04 195.08L132.38 196M133.76 194.58L132.11 195.49M133.5 194.09L132.9 194.41M134.31 195.56A83.38 83.38 0 0 1 133.5 194.09M135.48 193.95L133.9 194.83M134.37 192.99L133.89 193.24M134.11 192.5L133.39 192.88M133.86 192.01L133.85 192.02M134.37 192.99A82.09 82.09 0 0 1 133.86 192.01M134.57 192.26L134.11 192.5M132.29 192.18L129.59 193.56M132.04 191.68L131.98 191.71M131.79 191.18L131.42 191.36M132.29 192.18A83.56 83.56 0 0 1 131.79 191.18M133.82 190.79L132.04 191.68M135.48 193.95A81.58 81.58 0 0 1 133.82 190.79M135.81 191.76L134.63 192.38M131.65 190.62L130.66 191.1M131.41 190.12L130.51 190.54M131.17 189.61L130.59 189.88M131.65 190.62A83.45 83.45 0 0 1 131.17 189.61M132.72 189.49L131.41 190.12M130.96 189.09L129.53 189.74M130.72 188.57L129.02 189.34M130.5 188.06L126.33 189.9M130.27 187.55L130.24 187.56M130.05 187.03L128.91 187.52M130.96 189.09A83.42 83.42 0 0 1 130.05 187.03M131.8 187.48L130.5 188.06M130.4 186.28L129.78 186.53M130.19 185.76L130.12 185.79M129.98 185.24L129.72 185.35M130.4 186.28A82.8 82.8 0 0 1 129.98 185.24M130.94 185.45L130.19 185.76M130.14 184.58L129.78 184.72M129.94 184.06L129.54 184.22M129.74 183.55L129.23 183.74M130.14 184.58A82.41 82.41 0 0 1 129.74 183.55M130.32 183.91L129.94 184.06M132.72 189.49A81.99 81.99 0 0 1 130.32 183.91M133.08 186.03L131.47 186.72M128.22 183.52L123.95 185.1M128.02 182.99L126.78 183.44M127.83 182.46L125.8 183.18M127.64 181.93L127.55 181.96M127.46 181.39L126.34 181.77M127.28 180.86L125.52 181.44M128.22 183.52A83.82 83.82 0 0 1 127.28 180.86M128.97 181.76L127.74 182.19M127.38 180.23L123.93 181.36M127.21 179.7L126.6 179.89M127.38 180.23A83.53 83.53 0 0 1 127.21 179.7M128.26 179.65L127.29 179.96M126.32 179.38L125.35 179.68M126.15 178.84L125.03 179.18M125.99 178.3L125.29 178.5M126.32 179.38A84.28 84.28 0 0 1 125.99 178.3M127.85 178.33L126.15 178.84M128.97 181.76A82.51 82.51 0 0 1 127.85 178.33M130.55 179.34L128.39 180.05M135.81 191.76A80.24 80.24 0 0 1 130.55 179.34M138.85 183.15L132.92 185.66M127.98 177.13L127.56 177.25M127.83 176.6L126.5 176.98M127.68 176.07L126.65 176.35M127.54 175.54L127.12 175.65M127.98 177.13A82.04 82.04 0 0 1 127.54 175.54M128.71 176.07L127.76 176.33M127.92 174.86L126.06 175.35M127.79 174.33L126.68 174.61M127.92 174.86A81.5 81.5 0 0 1 127.79 174.33M128.28 174.49L127.85 174.6M128.71 176.07A81.06 81.06 0 0 1 128.28 174.49M130.42 174.77L128.49 175.28M135.5 173.41L130.42 174.77M134.13 171.88L133.65 172M133.87 170.77L133.23 170.91M133.63 169.65L132.52 169.88M133.4 168.53L131.76 168.84M133.19 167.4L132.7 167.49M134.13 171.88A74.76 74.76 0 0 1 133.19 167.4M133.96 169.58L133.63 169.65M132.74 166.32L131.91 166.45M132.57 165.18L128.06 165.84M132.41 164.05L132.05 164.1M132.74 166.32A75.02 75.02 0 0 1 132.41 164.05M133.16 165.1L132.57 165.18M131.92 162.95L130.26 163.14M131.79 161.8L130.98 161.88M131.92 162.95A75.38 75.38 0 0 1 131.79 161.8M132.8 162.28L131.85 162.38M131.92 160.64L131.76 160.65M131.83 159.49L130.56 159.58M131.76 158.34L130.97 158.38M131.92 160.64A75.14 75.14 0 0 1 131.76 158.34M132.56 159.44L131.83 159.49M131.53 157.2L130.96 157.22M131.5 156.05L131.28 156.06M131.48 154.9L130.89 154.9M131.53 157.2A75.32 75.32 0 0 1 131.48 154.9M132.4 156.03L131.5 156.05M133.96 169.58A74.42 74.42 0 0 1 132.4 156.03M133.48 162.77L132.87 162.84M130.95 153.74L129.62 153.73M130.96 152.58L129.48 152.55M131 151.42L130.41 151.4M131.05 150.26L129.29 150.17M131.13 149.11L128.94 148.95M130.95 153.74A75.86 75.86 0 0 1 131.13 149.11M131.72 151.45L131 151.42M130.97 147.93L129.25 147.78M131.08 146.77L130.72 146.73M131.2 145.61L131.05 145.59M130.97 147.93A76.1 76.1 0 0 1 131.2 145.61M132.04 146.87L131.08 146.77M131.72 151.45A75.14 75.14 0 0 1 132.04 146.87M133.18 149.25L131.84 149.16M132.31 144.58L131.1 144.42M132.47 143.45L130.81 143.2M132.65 142.31L131.11 142.06M132.84 141.18L132.57 141.13M132.31 144.58A75.12 75.12 0 0 1 132.84 141.18M133.04 142.95L132.56 142.88M132.72 139.98L132.45 139.93M132.95 138.85L132.58 138.78M133.19 137.73L128.76 136.72M133.46 136.6L130.33 135.84M132.72 139.98A75.46 75.46 0 0 1 133.46 136.6M133.88 138.46L133.07 138.29M133.82 135.5L133.81 135.5M134.12 134.39L133.74 134.29M133.82 135.5A75.37 75.37 0 0 1 134.12 134.39M134.68 135.14L133.97 134.95M134.44 133.28L134.3 133.24M134.77 132.18L133.8 131.88M134.44 133.28A75.37 75.37 0 0 1 134.77 132.18M135.3 132.94L134.6 132.73M135.03 131.05L132.01 130.07M135.39 129.95L135.18 129.88M135.03 131.05A75.46 75.46 0 0 1 135.39 129.95M135.99 130.76L135.21 130.5M133.04 142.95A74.63 74.63 0 0 1 135.99 130.76M135.07 136.99L134.26 136.8M270.98 135.83L277.71 133.88M277.71 133.88A73.8 73.8 0 1 1 135.07 136.99M273.46 139.45L320.4 128.96M272.42 135.41A68.3 68.3 0 0 1 274.44 144.84M275.01 137.34A70.3 70.3 0 0 1 276.42 164.13M277.35 140A72 72 0 0 1 278.8 154.35M277.96 156.83A71.2 71.2 0 0 1 273.71 178.7M274.44 144.84L276.42 144.57M277 150.67L278.7 150.58M276.42 164.13L279.88 164.62M278.41 146.82L280.2 146.64M276.44 169.15L278.99 169.69M279.32 140.65L285.41 139.5M279.46 141.41L284.08 140.58M279.61 142.3L285.23 141.37M308.48 130.25L309.08 132.85M243.36 98.69L245.52 95.4M243.8 98.97L247.42 93.54M244.23 99.26L247.31 94.71M244.65 99.55L247.77 95.03M245.08 99.85L248.43 95.07M245.5 100.15L249.49 94.55M245.92 100.45L249.32 95.77M246.34 100.75L251.96 93.13M246.75 101.06L252.57 93.31M247.16 101.37L252.27 94.67M247.57 101.69L254.22 93.1M247.98 102.01L255.08 92.98M248.39 102.33L255.64 93.26M248.79 102.65L255.19 94.77M249.19 102.98L257.16 93.33M249.59 103.31L256.44 95.14M249.98 103.65L256.1 96.46M250.37 103.98L256.8 96.55M250.76 104.32L260.82 92.88M251.15 104.67L260.43 94.27M251.54 105.01L259.59 96.13M251.92 105.36L255.9 101.03M252.3 105.71L256.49 101.23M252.67 106.07L254.71 103.92M253.05 106.42L256.64 102.7M253.42 106.79L256.76 103.38M253.79 107.15L256.72 104.2M254.15 107.52L256.62 105.07M254.51 107.88L257.69 104.79M254.87 108.26L257.67 105.58M255.23 108.63L258.45 105.59M255.58 109.01L259.58 105.29M255.93 109.39L258.78 106.78M256.28 109.77L260.26 106.19M256.63 110.16L258.01 108.93M256.97 110.55L259.28 108.52M257.31 110.94L261.48 107.35M257.64 111.33L260.83 108.63M257.97 111.73L261.42 108.85M258.3 112.12L261.11 109.82M258.63 112.53L262.23 109.62M258.95 112.93L261.22 111.13M259.27 113.34L263.16 110.29M259.59 113.74L261.49 112.28M259.9 114.16L263.07 111.76M260.21 114.57L262.4 112.94M260.52 114.99L264.34 112.19M260.83 115.4L262.95 113.87M261.13 115.82L263.56 114.1M261.42 116.25L264.26 114.27M261.72 116.67L265.36 114.17M262.01 117.1L265.02 115.07M262.3 117.53L264.19 116.28M262.58 117.96L265.11 116.31M262.86 118.4L266.56 116.02M263.14 118.83L265.42 117.4M263.41 119.27L265.06 118.25M263.68 119.71L267.17 117.59M263.95 120.15L266.8 118.45M264.21 120.6L266.5 119.25M264.48 121.05L265.7 120.34M264.73 121.5L267.68 119.82M264.99 121.95L266.03 121.36M265.24 122.4L267.74 121.03M265.48 122.85L267.74 121.64M265.72 123.31L268.4 121.9M265.96 123.77L268.47 122.47M266.2 124.23L267.88 123.38M266.43 124.69L268.12 123.85M266.66 125.16L267.84 124.58M266.89 125.62L268.9 124.66M267.11 126.09L268.28 125.54M267.32 126.56L268.3 126.11M267.54 127.03L269.17 126.3M267.75 127.5L270.06 126.48M267.96 127.98L270.13 127.04M268.16 128.45L269.27 127.98M268.36 128.93L269.16 128.6M268.55 129.41L269.5 129.02M268.74 129.89L269.88 129.44M268.93 130.37L269.62 130.11M269.12 130.85L270.98 130.15M269.3 131.34L270.51 130.89M269.47 131.82L270.86 131.32M269.65 132.31L270.62 131.97M269.82 132.8L271.06 132.38M269.98 133.29L270.92 132.98M270.14 133.78L270.97 133.51M270.3 134.27L270.9 134.08M270.46 134.77L271.25 134.52M244.51 97.16A68.5 68.5 0 0 1 260.03 111.24M245.81 95.63A70.5 70.5 0 0 1 257.51 105.38M247.86 94.6A72.5 72.5 0 0 1 257.62 102.64M250.59 94.08A74.5 74.5 0 0 1 259.3 101.49M254.21 93.67A77 77 0 0 1 260.29 98.96M258.22 93.07A80 80 0 0 1 261.87 96.32M260.38 112.49A68 68 0 0 1 270.28 129.98M264.42 115.49A69.5 69.5 0 0 1 270.29 126.08M257.27 100.23L284.96 70.54M259.11 99.22L281.83 75.28M260.98 98.24L279.04 79.54M261.57 98.81L276.31 83.86M260.82 100.89L272.19 89.64M259.46 105.25L271.16 94.33M261.74 109.38L281.17 93.48M262.7 112.22L273.89 103.8M265.63 118.3L283.37 107.43M266.85 120.37L283.39 111.02M268.37 124.32L281.22 118.05M269.39 127.78L278.6 123.87M179.83 84.99L178.45 81.43M180.19 84.84L179.96 84.23M179.83 84.99A74.42 74.42 0 0 1 180.19 84.84M180.31 85.7L180.01 84.92M180.6 84.8L180.37 84.19M180.97 84.66L179.3 80.16M181.34 84.53L180.72 82.85M180.6 84.8A74.32 74.32 0 0 1 181.34 84.53M181.22 85.35L180.97 84.66M180.31 85.7A73.59 73.59 0 0 1 181.22 85.35M181.15 86.54L180.77 85.52M182.32 86.11L181.96 85.1M181.15 86.54A72.49 72.49 0 0 1 182.32 86.11M182.37 88.05L181.74 86.33M181.09 81.46L180.21 78.99M181.47 81.33L180.53 78.61M181.09 81.46A77.29 77.29 0 0 1 181.47 81.33M181.69 82.56L181.28 81.39M182.16 83.9L181.69 82.56M181.62 80.5L180.98 78.62M182.01 80.37L181.19 77.91M181.62 80.5A78.02 78.02 0 0 1 182.01 80.37M182.1 81.26L181.82 80.43M182.9 83.65L182.1 81.26M182.16 83.9A74.63 74.63 0 0 1 182.9 83.65M183.82 87.54L182.53 83.77M182.37 88.05A70.65 70.65 0 0 1 183.82 87.54M184.73 92.36L183.1 87.79M182.43 80.31L182.23 79.72M182.82 80.18L182.58 79.43M183.21 80.05L182.85 78.91M182.43 80.31A77.95 77.95 0 0 1 183.21 80.05M183.14 81.18L182.82 80.18M183.94 83.64L183.14 81.18M183.69 80.19L183.06 78.19M184.08 80.07L183.91 79.52M183.69 80.19A77.67 77.67 0 0 1 184.08 80.07M184.12 80.92L183.88 80.13M184.71 80.74L184.02 78.45M184.12 80.92A76.86 76.86 0 0 1 184.71 80.74M185.16 83.26L184.42 80.83M183.94 83.64A74.32 74.32 0 0 1 185.16 83.26M185.25 85.7L184.55 83.44M184.61 78.97L184.59 78.91M185.01 78.85L184.96 78.67M185.41 78.73L185.32 78.42M184.61 78.97A78.58 78.58 0 0 1 185.41 78.73M185.37 80.1L185.01 78.85M185.9 78.96L185.51 77.55M186.3 78.85L186.03 77.87M185.9 78.96A78.23 78.23 0 0 1 186.3 78.85M186.35 79.82L186.1 78.91M185.37 80.1A77.28 77.28 0 0 1 186.35 79.82M186.03 80.57L185.86 79.96M187.11 80.27L186.87 79.37M186.03 80.57A76.65 76.65 0 0 1 187.11 80.27M187.81 84.95L186.57 80.42M187.17 78.91L186.9 77.88M187.57 78.8L187.36 78M187.97 78.7L186.81 74.04M187.17 78.91A77.96 77.96 0 0 1 187.97 78.7M187.87 80L187.57 78.8M188.66 79.81L188.41 78.78M187.87 80A76.72 76.72 0 0 1 188.66 79.81M188.71 81.7L188.27 79.9M188.85 78.85L188.25 76.33M189.25 78.76L189.07 78M188.85 78.85A77.61 77.61 0 0 1 189.25 78.76M189.36 80.11L189.05 78.8M189.94 79.97L189.4 77.55M189.36 80.11A76.26 76.26 0 0 1 189.94 79.97M189.96 81.4L189.65 80.04M190.64 81.25L190.27 79.58M188.71 81.7A74.86 74.86 0 0 1 190.64 81.25M190.34 84.3L189.68 81.47M189.91 75.98L189.49 74.03M190.32 75.9L190.02 74.44M190.74 75.81L190.68 75.54M189.91 75.98A80.17 80.17 0 0 1 190.74 75.81M190.57 77.05L190.32 75.9M191.06 79.41L190.57 77.05M192.01 83.93L191.06 79.41M185.25 85.7A71.96 71.96 0 0 1 192.01 83.93M190.17 90.69L188.61 84.73M191.88 79.4L191.87 79.31M192.28 79.32L192.02 77.99M192.68 79.24L192.62 78.93M191.88 79.4A76.42 76.42 0 0 1 192.68 79.24M192.45 80.17L192.28 79.32M192.8 82.01L192.45 80.17M192.95 78.48L192.92 78.34M193.35 78.4L193.26 77.91M192.95 78.48A77.13 77.13 0 0 1 193.35 78.4M193.36 79.62L193.15 78.44M193.96 79.52L193.36 76.04M193.36 79.62A75.92 75.92 0 0 1 193.96 79.52M194.05 81.78L193.66 79.57M192.8 82.01A73.68 73.68 0 0 1 194.05 81.78M193.86 84.26L193.42 81.89M194.59 80.9L193.94 76.97M194.98 80.83L194.96 80.68M194.59 80.9A74.46 74.46 0 0 1 194.98 80.83M194.91 81.61L194.79 80.87M195.4 81L195.21 79.76M195.79 80.94L195.61 79.76M195.4 81A74.23 74.23 0 0 1 195.79 80.94M195.68 81.49L195.6 80.97M194.91 81.61A73.7 73.7 0 0 1 195.68 81.49M195.39 82.18L195.29 81.55M195.9 78.93L195.78 78.11M196.3 78.87L196.12 77.58M196.7 78.82L196.06 74.06M195.9 78.93A76.2 76.2 0 0 1 196.7 78.82M196.39 79.51L196.3 78.87M196.73 81.98L196.39 79.51M197.27 80.16L197.17 79.36M197.67 80.11L197.54 79.13M197.27 80.16A74.8 74.8 0 0 1 197.67 80.11M197.52 80.55L197.47 80.13M197.69 81.86L197.52 80.55M195.39 82.18A73.06 73.06 0 0 1 197.69 81.86M196.79 83.78L196.54 82.01M193.86 84.26A71.27 71.27 0 0 1 196.79 83.78M196.2 89.41L195.32 84.01M197.96 79.21L197.8 77.89M198.35 79.16L198.25 78.19M198.75 79.12L198.75 79.1M197.96 79.21A75.66 75.66 0 0 1 198.75 79.12M198.42 79.72L198.35 79.16M199.08 78.35L199.05 78.09M199.48 78.31L199.33 76.74M199.08 78.35A76.39 76.39 0 0 1 199.48 78.31M199.4 79.61L199.28 78.33M198.42 79.72A75.1 75.1 0 0 1 199.4 79.61M199.12 81.68L198.91 79.66M199.87 78.17L199.86 78.02M200.27 78.13L200.24 77.8M200.68 78.1L200.62 77.35M199.87 78.17A76.5 76.5 0 0 1 200.68 78.1M200.35 79.04L200.27 78.13M201.15 78.98L201.1 78.34M200.35 79.04A75.59 75.59 0 0 1 201.15 78.98M200.95 81.51L200.75 79.01M201.55 78.94L201.49 78.17M201.94 78.91L201.93 78.74M201.55 78.94A75.59 75.59 0 0 1 201.94 78.91M201.8 79.71L201.74 78.92M201.91 81.44L201.8 79.71M199.12 81.68A73.08 73.08 0 0 1 201.91 81.44M200.65 83.08L200.52 81.54M202.39 79.69L202.33 78.69M202.79 79.66L202.68 77.72M203.18 79.64L203.17 79.47M202.39 79.69A74.79 74.79 0 0 1 203.18 79.64M202.8 80L202.79 79.66M202.85 80.96L202.8 80M203.56 79.23L203.46 76.88M203.96 79.22L203.93 78.55M203.56 79.23A75.19 75.19 0 0 1 203.96 79.22M203.79 80L203.76 79.23M203.82 80.92L203.79 80M202.85 80.96A73.49 73.49 0 0 1 203.82 80.92M203.43 82.9L203.34 80.94M204.22 75.02L204.19 74.24M204.64 75L204.62 74.36M204.22 75.02A79.38 79.38 0 0 1 204.64 75M204.46 76.21L204.43 75.01M205.08 76.2L205.05 74.64M204.46 76.21A78.17 78.17 0 0 1 205.08 76.2M204.82 78.1L204.77 76.2M205.47 74.88L204.98 45.57M205.89 74.87L205.86 72.38M206.31 74.87L206.3 73.14M205.47 74.88A79.48 79.48 0 0 1 206.31 74.87M205.91 76.25L205.89 74.87M206.73 75.66L206.72 56.35M207.15 75.66L207.23 56.35M206.73 75.66A78.69 78.69 0 0 1 207.15 75.66M206.94 76.25L206.94 75.66M205.91 76.25A78.1 78.1 0 0 1 206.94 76.25M206.43 78.07L206.42 76.25M207.56 76.37L207.57 75.62M207.97 76.38L207.99 75.24M207.56 76.37A77.98 77.98 0 0 1 207.97 76.38M207.76 76.79L207.76 76.38M207.74 78.08L207.76 76.79M204.82 78.1A76.28 76.28 0 0 1 207.74 78.08M206.31 82.82L206.28 78.07M208.38 76.43L208.4 75.74M208.79 76.44L208.82 75.33M209.21 76.45L209.21 76.21M208.38 76.43A77.93 77.93 0 0 1 209.21 76.45M208.77 77.35L208.79 76.44M208.74 78.45L208.77 77.35M209.67 74.98L209.67 74.94M210.09 75L210.16 73.28M209.67 74.98A79.42 79.42 0 0 1 210.09 75M209.84 75.91L209.88 74.99M210.47 75.94L210.48 75.71M209.84 75.91A78.5 78.5 0 0 1 210.47 75.94M210.05 78.5L210.16 75.93M210.87 76.12L211.09 71.89M211.29 76.14L211.33 75.43M210.87 76.12A78.34 78.34 0 0 1 211.29 76.14M211.04 76.79L211.08 76.13M210.95 78.54L211.04 76.79M208.74 78.45A75.92 75.92 0 0 1 210.95 78.54M209.67 82.87L209.84 78.49M211.27 82.96L211.49 79.53M200.65 83.08A71.53 71.53 0 0 1 211.27 82.96M206.03 88.55L205.96 82.82M212 77.8L212.15 75.62M212.41 77.83L212.67 74.21M212 77.8A76.72 76.72 0 0 1 212.41 77.83M212.17 78.3L212.21 77.82M212.05 80.02L212.17 78.3M212.88 76.94L212.88 76.94M213.29 76.98L213.45 75.13M212.88 76.94A77.65 77.65 0 0 1 213.29 76.98M212.98 78.28L213.09 76.96M213.63 77.77L214.93 63.21M214.04 77.81L214.17 76.45M213.63 77.77A76.88 76.88 0 0 1 214.04 77.81M213.79 78.35L213.84 77.79M212.98 78.28A76.32 76.32 0 0 1 213.79 78.35M213.23 80.11L213.38 78.32M212.05 80.02A74.52 74.52 0 0 1 213.23 80.11M212.46 82.39L212.64 80.06M214.39 78.39L214.87 73.61M214.79 78.43L215.26 73.97M214.39 78.39A76.34 76.34 0 0 1 214.79 78.43M214.54 78.91L214.59 78.41M214.39 80.41L214.54 78.91M215.21 78.29L215.39 76.66M215.61 78.34L215.88 76.05M216.02 78.38L216.05 78.11M215.21 78.29A76.52 76.52 0 0 1 216.02 78.38M215.5 79.31L215.61 78.34M215.36 80.51L215.5 79.31M216.14 80.61L216.27 79.61M214.39 80.41A74.33 74.33 0 0 1 216.14 80.61M215.02 82.64L215.26 80.5M217 77.08L217.03 76.86M217.41 77.14L218.24 71.13M217 77.08A77.94 77.94 0 0 1 217.41 77.14M217.12 77.77L217.21 77.11M216.89 79.5L217.12 77.77M217.78 77.51L218.68 71.19M218.18 77.57L218.54 75.14M218.59 77.63L218.9 75.6M217.78 77.51A77.62 77.62 0 0 1 218.59 77.63M218.13 77.92L218.18 77.57M217.87 79.64L218.13 77.92M218.66 79.76L218.79 78.94M216.89 79.5A75.53 75.53 0 0 1 218.66 79.76M217.29 82.94L217.78 79.62M219.49 77.19L219.66 76.14M219.9 77.26L220.7 72.52M220.31 77.33L220.81 74.46M219.49 77.19A78.2 78.2 0 0 1 220.31 77.33M219.71 78.37L219.9 77.26M220.73 77.32L220.76 77.12M221.13 77.39L221.17 77.2M220.73 77.32A78.28 78.28 0 0 1 221.13 77.39M220.71 78.54L220.93 77.36M219.71 78.37A77.07 77.07 0 0 1 220.71 78.54M219.99 79.72L220.21 78.45M221.07 79.92L221.29 78.75M219.99 79.72A75.78 75.78 0 0 1 221.07 79.92M219.88 83.36L220.53 79.82M212.46 82.39A72.18 72.18 0 0 1 219.88 83.36M215.35 89.11L216.18 82.78M221.24 81.15L221.52 79.72M221.62 81.23L222.07 79.04M221.24 81.15A74.61 74.61 0 0 1 221.62 81.23M221.21 82.27L221.43 81.19M220.98 83.44L221.21 82.27M222.14 80.68L222.75 77.77M222.53 80.76L222.62 80.33M222.14 80.68A75.25 75.25 0 0 1 222.53 80.76M222.22 81.28L222.33 80.72M221.73 83.59L222.22 81.28M220.98 83.44A72.31 72.31 0 0 1 221.73 83.59M220.83 86.08L221.35 83.52M223.4 78.66L223.76 76.99M223.8 78.75L224.79 74.35M223.4 78.66A77.48 77.48 0 0 1 223.8 78.75M223.4 79.59L223.6 78.71M224.31 78.36L224.78 76.31M224.71 78.45L225.46 75.26M224.31 78.36A77.98 77.98 0 0 1 224.71 78.45M224.19 79.77L224.51 78.4M224.78 79.91L225.54 76.77M223.4 79.59A76.59 76.59 0 0 1 224.78 79.91M223.64 81.68L224.09 79.74M225.24 79.73L225.77 77.6M225.64 79.83L225.97 78.53M225.24 79.73A76.87 76.87 0 0 1 225.64 79.83M225.31 80.3L225.44 79.78M226 80.06L226.63 77.62M226.39 80.16L226.44 79.96M226 80.06A76.73 76.73 0 0 1 226.39 80.16M226.09 80.5L226.19 80.11M226.68 80.66L226.68 80.66M225.31 80.3A76.32 76.32 0 0 1 226.68 80.66M225.56 82.15L225.99 80.48M223.64 81.68A74.6 74.6 0 0 1 225.56 82.15M223.43 86.67L224.6 81.91M226.92 81.3L227.17 80.37M227.3 81.4L227.63 80.24M226.92 81.3A75.77 75.77 0 0 1 227.3 81.4M226.9 82.1L227.11 81.35M226.57 83.31L226.9 82.1M227.59 81.87L227.6 81.82M227.97 81.98L229 78.47M227.59 81.87A75.4 75.4 0 0 1 227.97 81.98M227.68 82.26L227.78 81.92M228.25 82.43L228.43 81.83M227.68 82.26A75.05 75.05 0 0 1 228.25 82.43M227.6 83.6L227.97 82.34M229.34 80.23L229.44 79.88M229.73 80.35L230.66 77.35M229.34 80.23A77.47 77.47 0 0 1 229.73 80.35M229.16 81.5L229.53 80.29M228.44 83.86L229.16 81.5M226.57 83.31A73.74 73.74 0 0 1 228.44 83.86M226.37 87.46L227.5 83.58M229.3 83.05L230.32 79.82M229.68 83.17L231.15 78.6M229.3 83.05A74.76 74.76 0 0 1 229.68 83.17M229.34 83.58L229.49 83.11M228.62 85.86L229.34 83.58M227.95 87.95L228.62 85.86M220.83 86.08A69.69 69.69 0 0 1 227.95 87.95M223.43 90.69L224.41 86.92M230.24 82.72L230.43 82.15M230.62 82.85L231.79 79.35M230.24 82.72A75.37 75.37 0 0 1 230.62 82.85M230.09 83.83L230.43 82.78M229.49 85.63L230.09 83.83M230.9 83.26L232.44 78.71M231.28 83.39L232.06 81.11M230.9 83.26A75.06 75.06 0 0 1 231.28 83.39M230.87 83.96L231.09 83.32M231.56 83.79L231.69 83.4M231.93 83.92L232.13 83.36M232.3 84.05L232.98 82.19M231.56 83.79A74.78 74.78 0 0 1 232.3 84.05M231.8 84.28L231.93 83.92M230.87 83.96A74.4 74.4 0 0 1 231.8 84.28M230.67 86.03L231.34 84.12M229.49 85.63A72.37 72.37 0 0 1 230.67 86.03M229.38 87.88L230.08 85.83M232.89 83.6L233.15 82.9M233.27 83.73L233.88 82.11M233.64 83.88L236.34 76.78M232.89 83.6A75.41 75.41 0 0 1 233.64 83.88M232.86 84.83L233.27 83.73M232.29 86.33L232.86 84.83M234.15 83.66L236.75 76.94M234.52 83.81L235.84 80.44M234.15 83.66A75.79 75.79 0 0 1 234.52 83.81M233.84 85.01L234.34 83.73M233.19 86.67L233.84 85.01M234.61 84.67L235.26 83.04M234.98 84.82L235.35 83.9M234.61 84.67A75.02 75.02 0 0 1 234.98 84.82M234.63 85.16L234.79 84.75M233.9 86.96L234.63 85.16M232.29 86.33A72.64 72.64 0 0 1 233.9 86.96M232.22 88.91L233.1 86.64M235.42 84.8L235.95 83.49M235.78 84.95L236.26 83.81M235.42 84.8A75.21 75.21 0 0 1 235.78 84.95M235.48 85.16L235.6 84.87M234.84 86.69L235.48 85.16M233.68 89.5L234.84 86.69M229.38 87.88A70.2 70.2 0 0 1 233.68 89.5M229.99 92.77L231.55 88.66M236.34 84.66L236.35 84.62M236.7 84.82L237.69 82.52M237.07 84.98L237.18 84.74M236.34 84.66A75.69 75.69 0 0 1 237.07 84.98M236.27 85.84L236.7 84.82M235.84 86.84L236.27 85.84M237.42 85.19L238.85 81.94M237.78 85.35L237.82 85.26M237.42 85.19A75.64 75.64 0 0 1 237.78 85.35M237.48 85.54L237.6 85.27M236.72 87.23L237.48 85.54M235.84 86.84A73.49 73.49 0 0 1 236.72 87.23M235.45 88.93L236.28 87.03M238.82 84.03L239.3 82.97M239.19 84.2L239.66 83.18M239.56 84.38L240.83 81.67M238.82 84.03A77.26 77.26 0 0 1 239.56 84.38M238.7 85.26L239.19 84.2M239.43 85.6L240.05 84.3M238.7 85.26A76.1 76.1 0 0 1 239.43 85.6M238.54 86.55L239.07 85.43M239.26 86.89L239.34 86.72M238.54 86.55A74.86 74.86 0 0 1 239.26 86.89M237.42 89.83L238.9 86.72M240.38 85.5L241.47 83.25M240.74 85.68L240.93 85.29M241.1 85.86L241.58 84.9M240.38 85.5A76.6 76.6 0 0 1 241.1 85.86M240.22 86.72L240.74 85.68M241.5 85.98L242.17 84.66M241.86 86.16L242.08 85.73M241.5 85.98A76.67 76.67 0 0 1 241.86 86.16M241.11 87.17L241.68 86.07M240.22 86.72A75.43 75.43 0 0 1 241.11 87.17M239.91 88.46L240.67 86.95M242.12 86.53L243.64 83.61M242.48 86.72L242.63 86.44M242.12 86.53A76.46 76.46 0 0 1 242.48 86.72M241.87 87.45L242.3 86.63M242.4 87.73L243.1 86.41M241.87 87.45A75.53 75.53 0 0 1 242.4 87.73M241.29 89.18L242.13 87.59M243.47 86.59L244.95 83.86M243.83 86.78L243.85 86.74M243.47 86.59A77.05 77.05 0 0 1 243.83 86.78M243.12 87.65L243.65 86.69M242.07 89.59L243.12 87.65M239.91 88.46A73.74 73.74 0 0 1 242.07 89.59M239.91 91.08L240.99 89.02M244.93 85.64L244.96 85.58M245.29 85.84L245.58 85.32M244.93 85.64A78.58 78.58 0 0 1 245.29 85.84M244.79 86.3L245.11 85.74M245.33 86.61L246.48 84.59M244.79 86.3A77.94 77.94 0 0 1 245.33 86.61M244.16 88.06L245.06 86.45M241.86 92.14L244.16 88.06M235.45 88.93A71.41 71.41 0 0 1 241.86 92.14M236.19 95.48L238.7 90.45M242.96 91.56L244.37 89.1M243.29 91.75L244.53 89.62M243.62 91.95L243.67 91.86M242.96 91.56A72.45 72.45 0 0 1 243.62 91.95M242.75 92.67L243.29 91.75M243.4 93.05L243.92 92.19M242.75 92.67A71.4 71.4 0 0 1 243.4 93.05M242.52 93.8L243.08 92.86M244.43 92.09L245.59 90.16M244.75 92.29L245.52 91.04M244.43 92.09A72.75 72.75 0 0 1 244.75 92.29M244.36 92.57L244.59 92.19M243.32 94.28L244.36 92.57M242.52 93.8A70.3 70.3 0 0 1 243.32 94.28M241.84 95.84L242.92 94.04M240.61 97.9L241.84 95.84M179.46 96.26A64.2 64.2 0 0 1 244.54 102.41M181.35 94.97A64.6 64.6 0 0 1 242.55 100.54M183.29 93.75A65 65 0 0 1 240.47 98.75M185.29 92.59A65.4 65.4 0 0 1 238.31 97.04M187.34 91.49A65.8 65.8 0 0 1 236.06 95.41M229.48 92.05A66.3 66.3 0 0 1 270.5 135.96M242.64 98.1A66.7 66.7 0 0 1 270.88 135.85M174.49 91.32L173.89 90.15M174.7 90.33L173.99 88.9M174.18 87.8L173.79 87.01M174.73 87.42L172.65 83.06M175.34 87.14L174.76 85.91M174.73 87.42A74.21 74.21 0 0 1 175.34 87.14M175.08 87.37L175.04 87.28M174.18 87.8A74.12 74.12 0 0 1 175.08 87.37M175.71 89.84L174.63 87.58M174.7 90.33A71.61 71.61 0 0 1 175.71 89.84M175.55 90.79L175.21 90.08M174.49 91.32A70.83 70.83 0 0 1 175.55 90.79M175.75 92.51L175.02 91.05M177.99 91.34L177.72 90.75M178.56 91.08L178.18 90.24M177.99 91.34A69.29 69.29 0 0 1 178.56 91.08M178.31 91.29L178.27 91.21M175.75 92.51A69.2 69.2 0 0 1 178.31 91.29M177.11 92.07L177.02 91.88M178.93 96.18L176.99 92.12M164.59 92.47L163.74 91.22M164.8 92.32L162.35 88.7M164.59 92.47A74.91 74.91 0 0 1 164.8 92.32M165.36 93.37L164.69 92.39M165.2 92.45L164.7 91.7M165.42 92.3L163.57 89.53M165.2 92.45A74.58 74.58 0 0 1 165.42 92.3M165.79 93.08L165.31 92.37M166.11 92.87L165.63 92.16M165.36 93.37A73.73 73.73 0 0 1 166.11 92.87M166.9 94.85L165.73 93.12M166.44 92.91L164.88 90.54M166.66 92.77L165.05 90.31M166.44 92.91A73.51 73.51 0 0 1 166.66 92.77M166.88 93.34L166.55 92.84M167.57 94.41L166.88 93.34M166.66 92.3L165.27 90.15M166.88 92.16L166.25 91.19M166.66 92.3A73.9 73.9 0 0 1 166.88 92.16M167.32 93.08L166.77 92.23M167.99 94.13L167.32 93.08M166.9 94.85A71.64 71.64 0 0 1 167.99 94.13M168.34 95.86L167.44 94.49M164.56 88.04L164.03 87.22M164.79 87.89L164.74 87.82M164.56 88.04A78.62 78.62 0 0 1 164.79 87.89M165.18 88.77L164.67 87.97M165.52 88.55L165.09 87.86M165.18 88.77A77.67 77.67 0 0 1 165.52 88.55M166.79 90.94L165.35 88.66M165.41 87.85L164.72 86.75M165.64 87.7L164.85 86.42M165.41 87.85A78.33 78.33 0 0 1 165.64 87.7M166.15 88.79L165.52 87.78M166.17 88.04L165.75 87.36M166.4 87.9L166.24 87.65M166.17 88.04A77.77 77.77 0 0 1 166.4 87.9M166.61 88.5L166.28 87.97M166.15 88.79A77.14 77.14 0 0 1 166.61 88.5M167.51 90.49L166.38 88.65M166.9 88.21L164.69 84.54M167.13 88.07L167.11 88.04M166.9 88.21A77.25 77.25 0 0 1 167.13 88.07M167.62 89.14L167.02 88.14M167.29 87.81L166.74 86.89M167.52 87.67L152.24 61.72M167.29 87.81A77.38 77.38 0 0 1 167.52 87.67M168.07 88.87L167.41 87.74M167.62 89.14A76.08 76.08 0 0 1 168.07 88.87M168.41 89.95L167.84 89M167.87 87.73L152.56 61.53M168.11 87.6L167.26 86.14M167.87 87.73A77.15 77.15 0 0 1 168.11 87.6M168.32 88.24L167.99 87.67M169.09 89.55L168.32 88.24M166.79 90.94A74.98 74.98 0 0 1 169.09 89.55M170.51 94.49L167.93 90.23M169.96 90.28L169.62 89.69M170.18 90.15L169.69 89.29M169.96 90.28A73.91 73.91 0 0 1 170.18 90.15M170.24 90.51L170.07 90.21M170.57 90.31L169.93 89.17M170.24 90.51A73.57 73.57 0 0 1 170.57 90.31M171.36 92.09L170.4 90.41M170.47 89.61L170.33 89.36M170.7 89.49L170.5 89.13M170.92 89.36L170.64 88.84M170.47 89.61A74.23 74.23 0 0 1 170.92 89.36M171.23 90.45L170.7 89.49M171.68 90.2L171.23 89.38M171.23 90.45A73.13 73.13 0 0 1 171.68 90.2M172.18 91.63L171.46 90.32M172.61 91.39L171.99 90.24M171.36 92.09A71.64 71.64 0 0 1 172.61 91.39M172.78 93.17L171.98 91.74M168.16 95.98A70 70 0 0 1 172.86 93.13M173.36 99.78L170.23 94.67M165.17 101.29L164.65 100.63M165.56 100.72L163.88 98.54M165.78 99.91L164.48 98.19M166.29 99.48L164.01 96.4M166.83 99.09L165.87 97.76M166.29 99.48A68.2 68.2 0 0 1 166.83 99.09M166.58 99.32L166.56 99.28M165.78 99.91A68.16 68.16 0 0 1 166.58 99.32M166.48 100.02L166.18 99.62M165.56 100.72A67.65 67.65 0 0 1 166.48 100.02M166.15 100.54L166.02 100.37M165.17 101.29A67.44 67.44 0 0 1 166.15 100.54M165.92 101.26L165.66 100.91M148.09 116.74L147.34 116.26M148.27 116.46L147.6 116.02M148.46 116.17L148.37 116.12M148.09 116.74A69.72 69.72 0 0 1 148.46 116.17M148.61 116.68L148.27 116.46M147.8 115.33L147.36 115.04M147.99 115.04L146.38 113.96M147.8 115.33A70.73 70.73 0 0 1 147.99 115.04M149.08 115.97L147.9 115.19M148.61 116.68A69.32 69.32 0 0 1 149.08 115.97M149.95 117.05L148.85 116.32M149.05 115.34L147.11 114.03M149.24 115.06L148.67 114.67M149.43 114.78L147.79 113.64M149.05 115.34A69.69 69.69 0 0 1 149.43 114.78M149.69 115.36L149.24 115.06M150.07 114.81L148.29 113.56M149.69 115.36A69.15 69.15 0 0 1 150.07 114.81M150.83 115.74L149.88 115.08M148.29 113.14L146.71 112.02M148.49 112.85L147.44 112.1M148.7 112.57L147.13 111.44M148.29 113.14A71.57 71.57 0 0 1 148.7 112.57M149.31 113.43L148.49 112.85M149.71 112.87L146.69 110.68M149.31 113.43A70.57 70.57 0 0 1 149.71 112.87M151.59 114.65L149.51 113.15M149.95 117.05A68 68 0 0 1 151.59 114.65M153.64 117.82L150.76 115.84M150.16 112.77L149.27 112.12M150.36 112.5L149.23 111.65M150.57 112.22L149.76 111.61M150.16 112.77A70.27 70.27 0 0 1 150.57 112.22M150.65 112.71L150.36 112.5M152.91 114.39L150.65 112.71M150.85 112L150.3 111.59M151.06 111.73L148.23 109.57M150.85 112A70.17 70.17 0 0 1 151.06 111.73M151.21 112.07L150.95 111.87M151.04 111.28L149.64 110.2M151.25 111.01L135.84 98.99M151.46 110.74L151.2 110.54M151.04 111.28A70.46 70.46 0 0 1 151.46 110.74M151.73 111.39L151.25 111.01M151.21 112.07A69.84 69.84 0 0 1 151.73 111.39M153.65 113.4L151.47 111.73M154.31 112.57L153.7 112.08M152.91 114.39A67.09 67.09 0 0 1 154.31 112.57M155.66 115.05L153.6 113.47M151.5 109.89L150.27 108.9M151.72 109.62L150.51 108.64M151.5 109.89A70.96 70.96 0 0 1 151.72 109.62M152.56 110.52L151.61 109.75M152.08 109.47L152 109.4M152.3 109.2L152.22 109.13M152.53 108.94L151.76 108.3M152.08 109.47A70.77 70.77 0 0 1 152.53 108.94M153.1 109.86L152.3 109.2M152.56 110.52A69.73 69.73 0 0 1 153.1 109.86M153.5 110.74L152.83 110.19M152.69 108.62L152.51 108.47M152.91 108.36L152.05 107.62M153.13 108.09L152.69 107.71M152.69 108.62A70.85 70.85 0 0 1 153.13 108.09M153.17 108.58L152.91 108.36M152.97 107.49L152.94 107.47M153.2 107.23L152.08 106.24M153.43 106.96L153.05 106.63M152.97 107.49A71.37 71.37 0 0 1 153.43 106.96M153.85 107.8L153.2 107.23M153.17 108.58A70.5 70.5 0 0 1 153.85 107.8M154.75 109.26L153.51 108.19M153.13 106.23L150.02 103.44M153.37 105.97L149.81 102.74M153.13 106.23A72.09 72.09 0 0 1 153.37 105.97M153.93 106.72L153.25 106.1M155.64 108.25L153.93 106.72M153.5 110.74A68.86 68.86 0 0 1 155.64 108.25M157.87 112.33L154.56 109.48M154.82 106.82L153.85 105.93M155.05 106.57L152.96 104.64M154.82 106.82A70.44 70.44 0 0 1 155.05 106.57M155.71 107.4L154.94 106.69M155.6 106.61L155.47 106.49M155.84 106.36L155.81 106.34M156.07 106.11L154.17 104.3M155.6 106.61A70 70 0 0 1 156.07 106.11M156.29 106.78L155.84 106.36M156.75 106.29L155.38 104.97M155.71 107.4A69.39 69.39 0 0 1 156.75 106.29M158.17 108.67L156.23 106.84M156.45 105.53L155.34 104.45M156.69 105.28L155.92 104.53M156.45 105.53A70.13 70.13 0 0 1 156.69 105.28M156.93 105.75L156.57 105.41M159.02 107.79L156.93 105.75M158.17 108.67A66.72 66.72 0 0 1 159.02 107.79M160.2 109.76L158.59 108.23M157.81 105.91L157.49 105.58M158.05 105.67L157.61 105.22M158.29 105.43L158.07 105.21M157.81 105.91A68.89 68.89 0 0 1 158.29 105.43M158.46 106.08L158.05 105.67M157.99 104.65L154.63 101.22M158.23 104.41L156.33 102.45M157.99 104.65A69.66 69.66 0 0 1 158.23 104.41M159.06 105.49L158.11 104.53M159.42 105.15L159.28 105.01M158.46 106.08A68.31 68.31 0 0 1 159.42 105.15M159.94 106.63L158.94 105.61M160.64 105.95L159.85 105.12M159.94 106.63A66.88 66.88 0 0 1 160.64 105.95M161.95 108L160.29 106.29M153.64 117.82A64.5 64.5 0 0 1 161.95 108" fill="none" stroke="#000" stroke-width="0.55" stroke-linecap="butt"/>
<path d="M206.8 154.35L193.4 143.88M192.17 145.7A17 17 0 0 1 194.99 142.12M192.17 145.7L156.88 124.83M177.3 137.45L156.47 125.53M177.41 137.25L161.86 128.19M194.99 142.12L182.49 129.17M178.31 134.03A35 35 0 0 1 187.43 125.2M178.31 134.03L154.29 116.89M187.43 125.2L186.05 123.12M183.46 125A37.5 37.5 0 0 1 188.73 121.49M183.46 125L165.09 101.92M188.73 121.49L182.23 109.66M176.25 113.51A51 51 0 0 1 189.86 106.25M176.25 113.51L166.67 100.7M189.86 106.25L185.87 94.93M173.88 100.63A63 63 0 0 1 192.63 92.96M173.88 100.63L173.1 99.35M179.58 97.53L178.93 96.18M192.63 92.96L192.31 91.6" fill="none" stroke="#111" stroke-width="0.5"/>
<path d="" fill="none" stroke="#111" stroke-width="1.1"/>
<text x="111.2" y="99.82" font-size="7" fill="#222" text-anchor="middle">L1</text>
<text x="122" y="81.32" font-size="7" fill="#222" text-anchor="middle">L2</text>
<text x="140.4" y="69.02" font-size="7" fill="#222" text-anchor="middle">L4</text>
<text x="148.7" y="60.42" font-size="7" fill="#222" text-anchor="middle">L5</text>
<text x="158.8" y="54.12" font-size="7" fill="#222" text-anchor="middle">L6</text>
<text x="204.2" y="42.02" font-size="7" fill="#222" text-anchor="middle">L7</text>
<text x="296.5" y="89.02" font-size="7" fill="#222" text-anchor="middle">L9</text>
<text x="209.2" y="268.82" font-size="7" fill="#222" text-anchor="middle">L10</text>
<text x="214" y="193.3" font-size="6.4" fill="#222" text-anchor="middle">0.01</text>
<path d="M202 194.2H225.4" stroke="#222" stroke-width="0.8" fill="none"/>
<text x="80.7" y="103.2" font-size="8.4" fill="#111" transform="rotate(23 80.7 103.2)">PT LIN</text>
<path d="M524.93 35.45A118.9 118.9 0 0 1 526.6 35.46Q529 152.7 615.36 232.04A118.9 118.9 0 0 1 614.68 232.82Q528.91 152.73 524.93 35.45Z" fill="rgba(196,102,189,0.55)"/>
<path d="M505.32 37.15A118.9 118.9 0 0 1 523.9 35.46Q525.9 154.31 540.66 272.26A118.9 118.9 0 0 1 521.82 273.2Q524.41 154.42 505.32 37.15Z" fill="rgba(208,208,208,0.55)"/>
<path d="M504.5 37.29A118.9 118.9 0 0 1 505.32 37.15Q525.33 154.35 544.97 271.62A118.9 118.9 0 0 1 544.15 271.75Q525.27 154.36 504.5 37.29Z" fill="rgba(208,208,208,0.55)"/>
<path d="M501.95 37.78A118.9 118.9 0 0 1 504.5 37.29Q525.99 154.19 562.29 267.37A118.9 118.9 0 0 1 559.52 268.24Q525.78 154.24 501.95 37.78Z" fill="rgba(208,208,208,0.55)"/>
<path d="M499.82 38.22A118.9 118.9 0 0 1 501.95 37.78Q528.58 151.99 629.44 211.81A118.9 118.9 0 0 1 628.37 213.71Q528.45 152.08 499.82 38.22Z" fill="rgba(208,208,208,0.55)"/>
<path d="M497.39 38.78A118.9 118.9 0 0 1 499.01 38.4Q525.18 154.39 547.43 271.18A118.9 118.9 0 0 1 545.79 271.48Q525.05 154.41 497.39 38.78Z" fill="rgba(59,173,161,0.55)"/>
<path d="M495.58 39.24A118.9 118.9 0 0 1 496.59 38.98Q525.16 154.39 549.46 270.78A118.9 118.9 0 0 1 548.44 270.99Q525.08 154.41 495.58 39.24Z" fill="rgba(154,79,27,0.55)"/>
<path d="M494.38 39.56A118.9 118.9 0 0 1 495.58 39.24Q525.68 154.25 563.27 267.04A118.9 118.9 0 0 1 562.29 267.37Q525.59 154.28 494.38 39.56Z" fill="rgba(154,79,27,0.55)"/>
<path d="M491.58 40.35A118.9 118.9 0 0 1 493.38 39.83Q525.4 154.34 558.52 268.53A118.9 118.9 0 0 1 556.72 269.04Q525.25 154.38 491.58 40.35Z" fill="rgba(224,180,104,0.55)"/>
<path d="M490.19 40.77A118.9 118.9 0 0 1 491.58 40.35Q525.56 154.28 564.45 266.64A118.9 118.9 0 0 1 563.27 267.04Q525.46 154.31 490.19 40.77Z" fill="rgba(224,180,104,0.55)"/>
<path d="M484.49 42.69A118.9 118.9 0 0 1 489.2 41.08Q525.06 154.43 554.32 269.67A118.9 118.9 0 0 1 549.46 270.78Q524.68 154.54 484.49 42.69Z" fill="rgba(117,186,71,0.55)"/>
<path d="M479.85 44.5A118.9 118.9 0 0 1 484.49 42.69Q525.47 154.3 569.31 264.82A118.9 118.9 0 0 1 564.45 266.64Q525.09 154.45 479.85 44.5Z" fill="rgba(117,186,71,0.55)"/>
<path d="M476.61 45.9A118.9 118.9 0 0 1 479.85 44.5Q526.38 153.76 596.57 249.56A118.9 118.9 0 0 1 593.55 251.75Q526.13 153.91 476.61 45.9Z" fill="rgba(117,186,71,0.55)"/>
<path d="M463.22 52.97A118.9 118.9 0 0 1 476.61 45.9Q526.95 153.18 613.99 233.6A118.9 118.9 0 0 1 603.2 244.22Q525.98 153.89 463.22 52.97Z" fill="rgba(117,186,71,0.55)"/>
<path d="M454.63 58.77A118.9 118.9 0 0 1 463.22 52.97Q526.72 153.08 621.79 223.9A118.9 118.9 0 0 1 615.36 232.04Q526.12 153.63 454.63 58.77Z" fill="rgba(117,186,71,0.55)"/>
<path d="M446.56 65.3A118.9 118.9 0 0 1 454.63 58.77Q527.04 149.05 638.37 117.41A118.9 118.9 0 0 1 641.04 126.9Q526.83 149.69 446.56 65.3Z" fill="rgba(117,186,71,0.55)"/>
<path d="M445.02 66.69A118.9 118.9 0 0 1 446.56 65.3Q526.68 149.19 637.36 114.46A118.9 118.9 0 0 1 638.04 116.43Q526.64 149.33 445.02 66.69Z" fill="rgba(117,186,71,0.55)"/>
<path d="M443.28 68.32A118.9 118.9 0 0 1 444.26 67.39Q522.78 155.58 542.1 272.06A118.9 118.9 0 0 1 540.66 272.26Q522.68 155.63 443.28 68.32Z" fill="rgba(79,110,188,0.55)"/>
<path d="M439.46 72.13A118.9 118.9 0 0 1 443.28 68.32Q524.02 155.24 574.28 262.72A118.9 118.9 0 0 1 569.31 264.82Q523.67 155.48 439.46 72.13Z" fill="rgba(79,110,188,0.55)"/>
<path d="M435.55 76.42A118.9 118.9 0 0 1 439.46 72.13Q524.95 154.73 601.14 245.96A118.9 118.9 0 0 1 596.57 249.56Q524.61 155.04 435.55 76.42Z" fill="rgba(79,110,188,0.55)"/>
<path d="M429.4 84.13A118.9 118.9 0 0 1 435.55 76.42Q525.83 153.69 627.21 215.68A118.9 118.9 0 0 1 621.79 223.9Q525.37 154.32 429.4 84.13Z" fill="rgba(79,110,188,0.55)"/>
<path d="M410.08 125.18A118.9 118.9 0 0 1 429.4 84.13Q526.23 152.11 643.39 168.63A118.9 118.9 0 0 1 629.44 211.81Q524.9 155.48 410.08 125.18Z" fill="rgba(79,110,188,0.55)"/>
<path d="M409.69 126.8A118.9 118.9 0 0 1 410.08 125.18Q525.2 151.53 636.79 112.9A118.9 118.9 0 0 1 637.36 114.46Q525.2 151.65 409.69 126.8Z" fill="rgba(79,110,188,0.55)"/>
<path d="M408.84 130.65A118.9 118.9 0 0 1 409.4 128.01Q521.97 157.88 556.72 269.04A118.9 118.9 0 0 1 554.32 269.67Q521.85 158.01 408.84 130.65Z" fill="rgba(213,64,86,0.55)"/>
<path d="M406.48 151.86A118.9 118.9 0 0 1 408.84 130.65Q523.38 157.32 592.7 252.34A118.9 118.9 0 0 1 574.28 262.72Q522.55 158.59 406.48 151.86Z" fill="rgba(213,64,86,0.55)"/>
<path d="M406.45 153.52A118.9 118.9 0 0 1 406.48 151.86Q523.68 157.87 602.41 244.9A118.9 118.9 0 0 1 601.14 245.96Q523.63 157.98 406.45 153.52Z" fill="rgba(213,64,86,0.55)"/>
<path d="M406.45 154.77A118.9 118.9 0 0 1 406.45 153.52Q524.69 156.73 627.85 214.61A118.9 118.9 0 0 1 627.21 215.68Q524.67 156.82 406.45 154.77Z" fill="rgba(213,64,86,0.55)"/>
<path d="M413.41 194.43A118.9 118.9 0 0 1 406.45 154.77Q525.23 153.31 641.27 127.91A118.9 118.9 0 0 1 643.39 168.63Q525.59 156.52 413.41 194.43Z" fill="rgba(213,64,86,0.55)"/>
<path d="M506.14 271.69A118.9 118.9 0 0 1 413.41 194.43Q521.58 151.25 543.13 36.79A118.9 118.9 0 0 1 636.79 112.9Q529.04 157.39 506.14 271.69Z" fill="rgba(213,64,86,0.55)"/>
<path d="M544.57 27.29A128.5 128.5 0 0 1 647.14 113.36L640.22 115.69A121.2 121.2 0 0 0 543.47 34.51Z" fill="#b3b3b3"/>
<path d="M544.68 26.55A129.25 129.25 0 0 1 647.85 113.12" fill="none" stroke="#111" stroke-width="1.3"/>
<path d="M647.49 114.43A128.5 128.5 0 0 1 650.38 124.68L643.27 126.37A121.2 121.2 0 0 0 640.55 116.7Z" fill="#b3b3b3"/>
<path d="M648.2 114.2A129.25 129.25 0 0 1 651.11 124.51" fill="none" stroke="#111" stroke-width="1.3"/>
<path d="M650.63 125.77A128.5 128.5 0 0 1 636.69 218.5L630.37 214.86A121.2 121.2 0 0 0 643.51 127.4Z" fill="#b3b3b3"/>
<path d="M651.36 125.6A129.25 129.25 0 0 1 637.34 218.88" fill="none" stroke="#111" stroke-width="1.3"/>
<path d="M636.13 219.47A128.5 128.5 0 0 1 621.89 239.16L616.4 234.34A121.2 121.2 0 0 0 629.83 215.77Z" fill="#b3b3b3"/>
<path d="M636.77 219.85A129.25 129.25 0 0 1 622.45 239.66" fill="none" stroke="#111" stroke-width="1.3"/>
<path d="M621.14 240A128.5 128.5 0 0 1 609.48 251.48L604.7 245.96A121.2 121.2 0 0 0 615.7 235.13Z" fill="#b3b3b3"/>
<path d="M621.7 240.5A129.25 129.25 0 0 1 609.98 252.04" fill="none" stroke="#111" stroke-width="1.3"/>
<path d="M608.63 252.21A128.5 128.5 0 0 1 599.05 259.61L594.87 253.63A121.2 121.2 0 0 0 603.9 246.65Z" fill="#b3b3b3"/>
<path d="M609.12 252.78A129.25 129.25 0 0 1 599.48 260.23" fill="none" stroke="#111" stroke-width="1.3"/>
<path d="M598.13 260.25A128.5 128.5 0 0 1 562.28 277.43L560.18 270.44A121.2 121.2 0 0 0 594 254.23Z" fill="#b3b3b3"/>
<path d="M598.56 260.87A129.25 129.25 0 0 1 562.49 278.15" fill="none" stroke="#111" stroke-width="1.3"/>
<path d="M561.2 277.75A128.5 128.5 0 0 1 550.31 280.4L548.89 273.24A121.2 121.2 0 0 0 559.16 270.74Z" fill="#b3b3b3"/>
<path d="M561.41 278.47A129.25 129.25 0 0 1 550.45 281.14" fill="none" stroke="#111" stroke-width="1.3"/>
<path d="M549.21 280.62A128.5 128.5 0 0 1 545.01 281.34L543.89 274.12A121.2 121.2 0 0 0 547.85 273.44Z" fill="#b3b3b3"/>
<path d="M549.35 281.35A129.25 129.25 0 0 1 545.12 282.08" fill="none" stroke="#111" stroke-width="1.3"/>
<path d="M543.46 281.57A128.5 128.5 0 0 1 521.54 282.79L521.75 275.5A121.2 121.2 0 0 0 542.43 274.34Z" fill="#b3b3b3"/>
<path d="M543.56 282.31A129.25 129.25 0 0 1 521.52 283.54" fill="none" stroke="#111" stroke-width="1.3"/>
<path d="M504.58 281.16A128.5 128.5 0 0 1 400.04 125.88L407.16 127.5A121.2 121.2 0 0 0 505.76 273.96Z" fill="#d81d62"/>
<path d="M504.46 281.9A129.25 129.25 0 0 1 399.31 125.71" fill="none" stroke="#111" stroke-width="1.3"/>
<path d="M400.35 124.57A128.5 128.5 0 0 1 437.71 60.37L442.69 65.71A121.2 121.2 0 0 0 407.45 126.26Z" fill="#3d78c2"/>
<path d="M399.62 124.4A129.25 129.25 0 0 1 437.2 59.82" fill="none" stroke="#111" stroke-width="1.3"/>
<path d="M438.54 59.61A128.5 128.5 0 0 1 486.28 31.93L488.5 38.89A121.2 121.2 0 0 0 443.47 64.99Z" fill="#63bb42"/>
<path d="M438.03 59.06A129.25 129.25 0 0 1 486.05 31.22" fill="none" stroke="#111" stroke-width="1.3"/>
<path d="M487.35 31.6A128.5 128.5 0 0 1 490.79 30.58L492.76 37.61A121.2 121.2 0 0 0 489.51 38.57Z" fill="#e0b468"/>
<path d="M487.13 30.88A129.25 129.25 0 0 1 490.59 29.86" fill="none" stroke="#111" stroke-width="1.3"/>
<path d="M491.88 30.29A128.5 128.5 0 0 1 494.26 29.67L496.03 36.75A121.2 121.2 0 0 0 493.78 37.33Z" fill="#9a4f1b"/>
<path d="M491.68 29.56A129.25 129.25 0 0 1 494.08 28.94" fill="none" stroke="#111" stroke-width="1.3"/>
<path d="M495.13 29.45A128.5 128.5 0 0 1 496.88 29.04L498.5 36.16A121.2 121.2 0 0 0 496.85 36.55Z" fill="#3bada1"/>
<path d="M494.96 28.72A129.25 129.25 0 0 1 496.71 28.31" fill="none" stroke="#111" stroke-width="1.3"/>
<path d="M497.76 28.85A128.5 128.5 0 0 1 523.78 25.86L523.87 33.16A121.2 121.2 0 0 0 499.32 35.98Z" fill="#c8c8c8"/>
<path d="M497.6 28.12A129.25 129.25 0 0 1 523.77 25.11" fill="none" stroke="#111" stroke-width="1.3"/>
<path d="M524.9 25.85A128.5 128.5 0 0 1 526.7 25.86L526.62 33.16A121.2 121.2 0 0 0 524.93 33.15Z" fill="#c466bd"/>
<path d="M524.9 25.1A129.25 129.25 0 0 1 526.7 25.11" fill="none" stroke="#111" stroke-width="1.3"/>
<text x="622.79" y="56.91" font-size="9" fill="#4560b8" text-anchor="middle" transform="rotate(45 622.79 56.91)" dy="3.24">Taunton</text>
<text x="657.75" y="118.38" font-size="9" fill="#4560b8" text-anchor="middle" transform="rotate(74.8 657.75 118.38)" dy="3.24">Jersey</text>
<text x="659.66" y="167.99" font-size="9" fill="#4560b8" text-anchor="middle" transform="rotate(-84.2 659.66 167.99)" dy="3.24">Dundee</text>
<text x="636.88" y="233.91" font-size="9" fill="#4560b8" text-anchor="middle" transform="rotate(-54.5 636.88 233.91)" dy="3.24">Beccles</text>
<text x="607.27" y="262.66" font-size="9" fill="#4560b8" text-anchor="middle" transform="rotate(-37.1 607.27 262.66)" dy="3.24">3b</text>
<text x="583.45" y="279.52" font-size="9" fill="#4560b8" text-anchor="middle" transform="rotate(-24.9 583.45 279.52)" dy="3.24">3al</text>
<text x="557.42" y="286.93" font-size="9" fill="#4560b8" text-anchor="middle" transform="rotate(-13.6 557.42 286.93)" dy="3.24">3a</text>
<text x="546.8" y="288.24" font-size="9" fill="#4560b8" text-anchor="middle" transform="rotate(-9.1 546.8 288.24)" dy="3.24">2</text>
<text x="534.3" y="289.05" font-size="9" fill="#4560b8" text-anchor="middle" transform="rotate(-3.8 534.3 289.05)" dy="3.24">1</text>
<text x="629.6" y="259" font-size="9" fill="#4560b8" text-anchor="middle" transform="rotate(-37 629.6 259)" dy="3.2">BAOR</text>
<path d="M615.2 246.2L623.4 257" stroke="#222" stroke-width="0.7" fill="none"/>
<text x="415.26" y="235.22" font-size="9" fill="#111" text-anchor="middle" transform="rotate(53.7 415.26 235.22)" dy="3.24">L10</text>
<text x="406.35" y="86.47" font-size="9" fill="#111" text-anchor="middle" transform="rotate(-60.3 406.35 86.47)" dy="3.24">L9</text>
<text x="456.56" y="34.72" font-size="9" fill="#111" text-anchor="middle" transform="rotate(-29.9 456.56 34.72)" dy="3.24">L7</text>
<text x="527.6" y="17.6" font-size="9" fill="#111" text-anchor="middle" transform="rotate(0 527.6 17.6)" dy="3.24">L1</text>
<text x="510.3" y="18.2" font-size="9" fill="#111" text-anchor="middle" transform="rotate(-6 510.3 18.2)" dy="3.24">L2</text>
<text x="497.3" y="3.6" font-size="9" fill="#111" text-anchor="middle" transform="rotate(-10 497.3 3.6)" dy="3.24">L4</text>
<text x="487.8" y="15.3" font-size="9" fill="#111" text-anchor="middle" transform="rotate(-12 487.8 15.3)" dy="3.24">L5</text>
<text x="474.3" y="14.8" font-size="9" fill="#111" text-anchor="middle" transform="rotate(-15 474.3 14.8)" dy="3.24">L6</text>
<path d="M497.8 8.4L495.3 27.8M488.0 19.4L492.2 29.2M476.8 20L487.4 29.4" stroke="#222" stroke-width="0.7" fill="none"/>
<text x="386.5" y="168.8" font-size="13" fill="#000" transform="rotate(-90 386.5 168.8)">Lineage</text>
<text x="674.2" y="117.0" font-size="12" fill="#4560b8" transform="rotate(90 674.2 117.0)">Phage type</text>
<text x="611.01" y="63.45" font-size="5.6" fill="rgba(40,40,40,0.7)" text-anchor="middle" transform="rotate(43.3 611.01 63.45)" dy="2.02">98</text>
<text x="645.77" y="121.18" font-size="5.6" fill="rgba(40,40,40,0.7)" text-anchor="middle" transform="rotate(74.6 645.77 121.18)" dy="2.02">8</text>
<text x="648.88" y="172.81" font-size="5.6" fill="rgba(40,40,40,0.7)" text-anchor="middle" transform="rotate(-81.5 648.88 172.81)" dy="2.02">63</text>
<text x="627.16" y="226.7" font-size="5.6" fill="rgba(40,40,40,0.7)" text-anchor="middle" transform="rotate(-54.6 627.16 226.7)" dy="2.02">18</text>
<text x="612.89" y="243.43" font-size="5.6" fill="rgba(40,40,40,0.7)" text-anchor="middle" transform="rotate(-44.5 612.89 243.43)" dy="2.02">11</text>
<text x="601.73" y="253.17" font-size="5.6" fill="rgba(40,40,40,0.7)" text-anchor="middle" transform="rotate(-37.7 601.73 253.17)" dy="2.02">7</text>
<text x="579.32" y="266.99" font-size="5.6" fill="rgba(40,40,40,0.7)" text-anchor="middle" transform="rotate(-25.6 579.32 266.99)" dy="2.02">28</text>
<text x="554.93" y="275.7" font-size="5.6" fill="rgba(40,40,40,0.7)" text-anchor="middle" transform="rotate(-13.7 554.93 275.7)" dy="2.02">7</text>
<text x="546.39" y="277.46" font-size="5.6" fill="rgba(255,255,255,0.9)" text-anchor="middle" transform="rotate(-9.7 546.39 277.46)" dy="2.02">1</text>
<text x="532.32" y="279.06" font-size="5.6" fill="rgba(40,40,40,0.7)" text-anchor="middle" transform="rotate(-3.2 532.32 279.06)" dy="2.02">16</text>
<text x="421.56" y="223.83" font-size="5.6" fill="rgba(110,20,80,0.6)" text-anchor="middle" transform="rotate(-123.8 421.56 223.83)" dy="2.02">159</text>
<text x="417.4" y="91.52" font-size="5.6" fill="rgba(60,70,100,0.6)" text-anchor="middle" transform="rotate(-59.8 417.4 91.52)" dy="2.02">50</text>
<text x="462.71" y="46.29" font-size="5.6" fill="rgba(60,90,50,0.6)" text-anchor="middle" transform="rotate(-30.1 462.71 46.29)" dy="2.02">38</text>
<text x="490.09" y="34.53" font-size="5.6" fill="rgba(90,80,50,0.6)" text-anchor="middle" transform="rotate(-16.4 490.09 34.53)" dy="2.02">2</text>
<text x="510.99" y="30.28" font-size="5.6" fill="rgba(40,40,40,0.7)" text-anchor="middle" transform="rotate(-6.6 510.99 30.28)" dy="2.02">18</text>
<text x="-2.6" y="16.6" font-size="24" font-weight="bold" fill="#000">a</text>
<text x="373.7" y="16.5" font-size="24" font-weight="bold" fill="#000">b</text>
<text x="3.6" y="40.2" font-size="8.3" fill="#000">Phage type (PT)</text>
<rect x="12.9" y="45.1" width="7.4" height="6.8" fill="#1b75b8" stroke="#333" stroke-width="0.5"/>
<text x="24" y="51.1" font-size="6.9" fill="#111">1</text>
<rect x="12.9" y="56.25" width="7.4" height="6.8" fill="#a9dde0" stroke="#333" stroke-width="0.5"/>
<text x="24" y="62.25" font-size="6.9" fill="#111">2</text>
<rect x="12.9" y="67.41" width="7.4" height="6.8" fill="#cf7ab0" stroke="#333" stroke-width="0.5"/>
<text x="24" y="73.41" font-size="6.9" fill="#111">3a</text>
<rect x="12.9" y="78.56" width="7.4" height="6.8" fill="#ef2f96" stroke="#333" stroke-width="0.5"/>
<text x="24" y="84.56" font-size="6.9" fill="#111">3al</text>
<rect x="12.9" y="89.72" width="7.4" height="6.8" fill="#a44fae" stroke="#333" stroke-width="0.5"/>
<text x="24" y="95.72" font-size="6.9" fill="#111">3b</text>
<rect x="12.9" y="100.87" width="7.4" height="6.8" fill="#d8692a" stroke="#333" stroke-width="0.5"/>
<text x="24" y="106.87" font-size="6.9" fill="#111">BAOR</text>
<rect x="12.9" y="112.03" width="7.4" height="6.8" fill="#9b9b9b" stroke="#333" stroke-width="0.5"/>
<text x="24" y="118.03" font-size="6.9" fill="#111">Beccles</text>
<rect x="12.9" y="123.18" width="7.4" height="6.8" fill="#ece64e" stroke="#333" stroke-width="0.5"/>
<text x="24" y="129.19" font-size="6.9" fill="#111">Dundee</text>
<rect x="12.9" y="134.34" width="7.4" height="6.8" fill="#80431c" stroke="#333" stroke-width="0.5"/>
<text x="24" y="140.34" font-size="6.9" fill="#111">Jersey</text>
<rect x="12.9" y="145.5" width="7.4" height="6.8" fill="#1ba576" stroke="#333" stroke-width="0.5"/>
<text x="24" y="151.5" font-size="6.9" fill="#111">Taunton</text>
<text x="3.6" y="169.3" font-size="8.25" fill="#000">Lineage (LIN)</text>
<rect x="14.4" y="174.6" width="6.9" height="6.8" fill="#c466bd" stroke="#333" stroke-width="0.5"/>
<text x="25.2" y="180.6" font-size="6.9" fill="#111">L1</text>
<rect x="14.4" y="185.51" width="6.9" height="6.8" fill="#d6d6d6" stroke="#333" stroke-width="0.5"/>
<text x="25.2" y="191.51" font-size="6.9" fill="#111">L2</text>
<rect x="14.4" y="196.42" width="6.9" height="6.8" fill="#000000" stroke="#333" stroke-width="0.5"/>
<text x="25.2" y="202.42" font-size="6.9" fill="#111">L3</text>
<rect x="14.4" y="207.33" width="6.9" height="6.8" fill="#3bada1" stroke="#333" stroke-width="0.5"/>
<text x="25.2" y="213.33" font-size="6.9" fill="#111">L4</text>
<rect x="14.4" y="218.24" width="6.9" height="6.8" fill="#9a4f1b" stroke="#333" stroke-width="0.5"/>
<text x="25.2" y="224.24" font-size="6.9" fill="#111">L5</text>
<rect x="14.4" y="229.15" width="6.9" height="6.8" fill="#e0b468" stroke="#333" stroke-width="0.5"/>
<text x="25.2" y="235.15" font-size="6.9" fill="#111">L6</text>
<rect x="14.4" y="240.06" width="6.9" height="6.8" fill="#63bb42" stroke="#333" stroke-width="0.5"/>
<text x="25.2" y="246.06" font-size="6.9" fill="#111">L7</text>
<rect x="14.4" y="250.97" width="6.9" height="6.8" fill="#f69a9c" stroke="#333" stroke-width="0.5"/>
<text x="25.2" y="256.97" font-size="6.9" fill="#111">L8</text>
<rect x="14.4" y="261.88" width="6.9" height="6.8" fill="#3d78c2" stroke="#333" stroke-width="0.5"/>
<text x="25.2" y="267.88" font-size="6.9" fill="#111">L9</text>
<rect x="14.4" y="272.79" width="6.9" height="6.8" fill="#d81d62" stroke="#333" stroke-width="0.5"/>
<text x="25.2" y="278.79" font-size="6.9" fill="#111">L10</text>
<rect x="14.4" y="283.7" width="6.9" height="6.8" fill="#f4ee6f" stroke="#333" stroke-width="0.5"/>
<text x="25.2" y="289.7" font-size="6.9" fill="#111">L11</text>
</svg>
</body></html>
